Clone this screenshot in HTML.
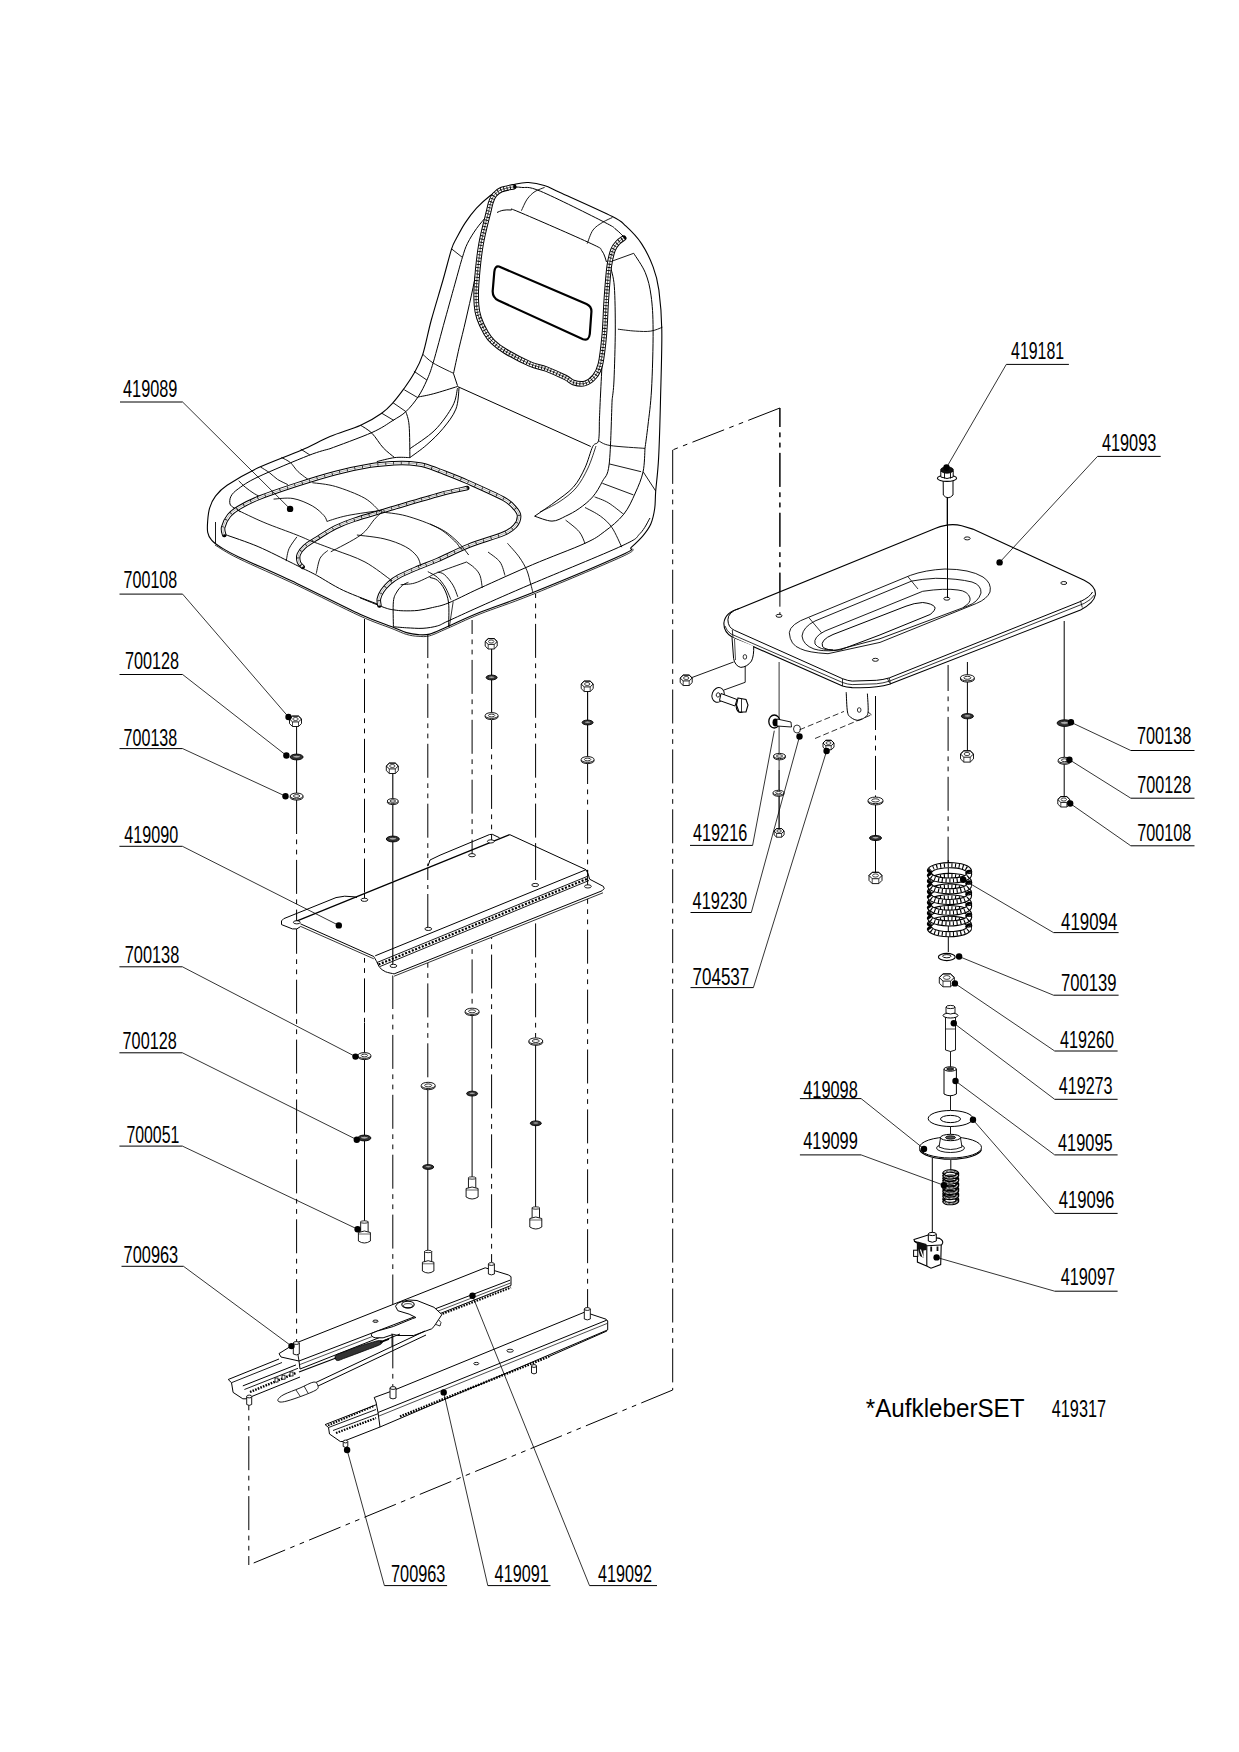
<!DOCTYPE html>
<html><head><meta charset="utf-8"><style>
html,body{margin:0;padding:0;background:#fff;overflow:hidden;}
svg{display:block;}
.t{font-family:"Liberation Sans",sans-serif;font-size:24.4px;fill:#000;}
.s{font-family:"Liberation Sans",sans-serif;font-size:25px;fill:#000;}
</style></head><body>
<svg width="1239" height="1752" viewBox="0 0 1239 1752" stroke-linecap="butt" fill="none">
<rect width="1239" height="1752" fill="#fff"/>
<line x1="296.6" y1="722" x2="296.6" y2="798" stroke="#000" stroke-width="1" />
<line x1="296.6" y1="800" x2="296.6" y2="1345" stroke="#000" stroke-width="1" stroke-dasharray="34 5.5 4.7 5.5 4.7 5.5" stroke-dashoffset="0"/>
<line x1="364.5" y1="619" x2="364.5" y2="1023" stroke="#000" stroke-width="1" stroke-dasharray="34 5.5 4.7 5.5 4.7 5.5" stroke-dashoffset="0"/>
<line x1="364.5" y1="1023" x2="364.5" y2="1222" stroke="#000" stroke-width="1" />
<line x1="392.8" y1="768" x2="392.8" y2="965" stroke="#000" stroke-width="1.1" />
<line x1="392.8" y1="975" x2="392.8" y2="1386" stroke="#000" stroke-width="1" stroke-dasharray="34 5.5 4.7 5.5 4.7 5.5" stroke-dashoffset="0"/>
<line x1="427.8" y1="634" x2="427.8" y2="1083" stroke="#000" stroke-width="1" stroke-dasharray="34 5.5 4.7 5.5 4.7 5.5" stroke-dashoffset="10"/>
<line x1="427.8" y1="1085" x2="427.8" y2="1250" stroke="#000" stroke-width="1" />
<line x1="472.1" y1="620" x2="472.1" y2="1010" stroke="#000" stroke-width="1" stroke-dasharray="34 5.5 4.7 5.5 4.7 5.5" stroke-dashoffset="20"/>
<line x1="472.1" y1="1011" x2="472.1" y2="1180" stroke="#000" stroke-width="1" />
<line x1="491.6" y1="648" x2="491.6" y2="716" stroke="#000" stroke-width="1.1" />
<line x1="491.6" y1="720" x2="491.6" y2="1262" stroke="#000" stroke-width="1" stroke-dasharray="34 5.5 4.7 5.5 4.7 5.5" stroke-dashoffset="5"/>
<line x1="535.6" y1="594" x2="535.6" y2="1040" stroke="#000" stroke-width="1" stroke-dasharray="34 5.5 4.7 5.5 4.7 5.5" stroke-dashoffset="30"/>
<line x1="535.6" y1="1041" x2="535.6" y2="1209" stroke="#000" stroke-width="1" />
<line x1="587.6" y1="690" x2="587.6" y2="759" stroke="#000" stroke-width="1.1" />
<line x1="587.6" y1="762" x2="587.6" y2="1308" stroke="#000" stroke-width="1" stroke-dasharray="34 5.5 4.7 5.5 4.7 5.5" stroke-dashoffset="12"/>
<line x1="779.9" y1="408" x2="672.7" y2="449.9" stroke="#000" stroke-width="1" stroke-dasharray="34 5.5 4.7 5.5 4.7 5.5" stroke-dashoffset="0"/>
<line x1="779.9" y1="408" x2="779.9" y2="614" stroke="#000" stroke-width="1" stroke-dasharray="34 5.5 4.7 5.5 4.7 5.5" stroke-dashoffset="15"/>
<line x1="672.7" y1="449.9" x2="672.7" y2="1390" stroke="#000" stroke-width="1" stroke-dasharray="34 5.5 4.7 5.5 4.7 5.5" stroke-dashoffset="0"/>
<line x1="672.7" y1="1390" x2="248.8" y2="1565" stroke="#000" stroke-width="1" stroke-dasharray="34 5.5 4.7 5.5 4.7 5.5" stroke-dashoffset="0"/>
<line x1="248.8" y1="1565" x2="248.8" y2="1398" stroke="#000" stroke-width="1" stroke-dasharray="34 5.5 4.7 5.5 4.7 5.5" stroke-dashoffset="25"/>
<line x1="779.1" y1="662" x2="779.1" y2="832" stroke="#000" stroke-width="0.8" />
<line x1="875.5" y1="696" x2="875.5" y2="797" stroke="#000" stroke-width="1" stroke-dasharray="34 5.5 4.7 5.5 4.7 5.5" stroke-dashoffset="0"/>
<line x1="875.5" y1="800" x2="875.5" y2="876" stroke="#000" stroke-width="1" />
<line x1="948.1" y1="665" x2="948.1" y2="862" stroke="#000" stroke-width="1" stroke-dasharray="34 5.5 4.7 5.5 4.7 5.5" stroke-dashoffset="8"/>
<line x1="947.2" y1="497" x2="947.2" y2="598" stroke="#000" stroke-width="1" />
<line x1="967.4" y1="662" x2="967.4" y2="753" stroke="#000" stroke-width="1" />
<line x1="1064.2" y1="621" x2="1064.2" y2="798" stroke="#000" stroke-width="1" />
<line x1="950.5" y1="1050" x2="950.5" y2="1110" stroke="#000" stroke-width="0.9" />
<line x1="950.5" y1="1125" x2="950.5" y2="1140" stroke="#000" stroke-width="0.9" />
<path d="M289.5,719 L292.5,716.1 L298.5,716.1 L301.5,719 L301.5,723.6 L298.5,726.5 L292.5,726.5 L289.5,723.6 Z" fill="#fff" stroke="#000" stroke-width="0.9" />
<path d="M289.5,719 L292.5,716.1 L298.5,716.1 L301.5,719" fill="none" stroke="#000" stroke-width="0.9" />
<path d="M301.5,719 L298.5,721.9 L292.5,721.9 L289.5,719" fill="none" stroke="#000" stroke-width="0.9" />
<line x1="298.5" y1="721.9" x2="298.5" y2="726.5" stroke="#000" stroke-width="0.7200000000000001" />
<line x1="292.5" y1="721.9" x2="292.5" y2="726.5" stroke="#000" stroke-width="0.7200000000000001" />
<ellipse cx="295.5" cy="719" rx="2.7" ry="1.5" fill="none" stroke="#000" stroke-width="0.7200000000000001"/>
<ellipse cx="296.6" cy="757" rx="6.5" ry="2.9" fill="#333" stroke="#000" stroke-width="0.9"/>
<ellipse cx="296.6" cy="756.7" rx="3.6" ry="1.4" fill="#aaa" stroke="#222" stroke-width="0.8"/>
<ellipse cx="296.6" cy="797.2" rx="6.5" ry="2.9" fill="#fff" stroke="#000" stroke-width="0.9"/>
<ellipse cx="296.6" cy="796" rx="6.5" ry="2.9" fill="#fff" stroke="#000" stroke-width="0.9"/>
<ellipse cx="296.6" cy="796" rx="3.2" ry="1.4" fill="none" stroke="#000" stroke-width="0.8"/>
<path d="M386.3,766 L389.3,763.1 L395.3,763.1 L398.3,766 L398.3,770.6 L395.3,773.5 L389.3,773.5 L386.3,770.6 Z" fill="#fff" stroke="#000" stroke-width="0.9" />
<path d="M386.3,766 L389.3,763.1 L395.3,763.1 L398.3,766" fill="none" stroke="#000" stroke-width="0.9" />
<path d="M398.3,766 L395.3,768.9 L389.3,768.9 L386.3,766" fill="none" stroke="#000" stroke-width="0.9" />
<line x1="395.3" y1="768.9" x2="395.3" y2="773.5" stroke="#000" stroke-width="0.7200000000000001" />
<line x1="389.3" y1="768.9" x2="389.3" y2="773.5" stroke="#000" stroke-width="0.7200000000000001" />
<ellipse cx="392.3" cy="766" rx="2.7" ry="1.5" fill="none" stroke="#000" stroke-width="0.7200000000000001"/>
<ellipse cx="392.8" cy="802.2" rx="5.5" ry="2.4" fill="#fff" stroke="#000" stroke-width="0.9"/>
<ellipse cx="392.8" cy="801" rx="5.5" ry="2.4" fill="#fff" stroke="#000" stroke-width="0.9"/>
<ellipse cx="392.8" cy="801" rx="2.8" ry="1.2" fill="none" stroke="#000" stroke-width="0.8"/>
<ellipse cx="392.8" cy="839" rx="6.5" ry="2.9" fill="#333" stroke="#000" stroke-width="0.9"/>
<ellipse cx="392.8" cy="838.7" rx="3.6" ry="1.4" fill="#aaa" stroke="#222" stroke-width="0.8"/>
<path d="M485.2,641.5 L488.2,638.6 L494.2,638.6 L497.2,641.5 L497.2,646.1 L494.2,649 L488.2,649 L485.2,646.1 Z" fill="#fff" stroke="#000" stroke-width="0.9" />
<path d="M485.2,641.5 L488.2,638.6 L494.2,638.6 L497.2,641.5" fill="none" stroke="#000" stroke-width="0.9" />
<path d="M497.2,641.5 L494.2,644.4 L488.2,644.4 L485.2,641.5" fill="none" stroke="#000" stroke-width="0.9" />
<line x1="494.2" y1="644.4" x2="494.2" y2="649" stroke="#000" stroke-width="0.7200000000000001" />
<line x1="488.2" y1="644.4" x2="488.2" y2="649" stroke="#000" stroke-width="0.7200000000000001" />
<ellipse cx="491.2" cy="641.5" rx="2.7" ry="1.5" fill="none" stroke="#000" stroke-width="0.7200000000000001"/>
<ellipse cx="491.6" cy="677.5" rx="5.5" ry="2.4" fill="#333" stroke="#000" stroke-width="0.9"/>
<ellipse cx="491.6" cy="677.2" rx="3" ry="1.2" fill="#aaa" stroke="#222" stroke-width="0.8"/>
<ellipse cx="491.6" cy="716.7" rx="6.5" ry="2.9" fill="#fff" stroke="#000" stroke-width="0.9"/>
<ellipse cx="491.6" cy="715.5" rx="6.5" ry="2.9" fill="#fff" stroke="#000" stroke-width="0.9"/>
<ellipse cx="491.6" cy="715.5" rx="3.2" ry="1.4" fill="none" stroke="#000" stroke-width="0.8"/>
<path d="M581.2,684 L584.2,681.1 L590.2,681.1 L593.2,684 L593.2,688.6 L590.2,691.5 L584.2,691.5 L581.2,688.6 Z" fill="#fff" stroke="#000" stroke-width="0.9" />
<path d="M581.2,684 L584.2,681.1 L590.2,681.1 L593.2,684" fill="none" stroke="#000" stroke-width="0.9" />
<path d="M593.2,684 L590.2,686.9 L584.2,686.9 L581.2,684" fill="none" stroke="#000" stroke-width="0.9" />
<line x1="590.2" y1="686.9" x2="590.2" y2="691.5" stroke="#000" stroke-width="0.7200000000000001" />
<line x1="584.2" y1="686.9" x2="584.2" y2="691.5" stroke="#000" stroke-width="0.7200000000000001" />
<ellipse cx="587.2" cy="684" rx="2.7" ry="1.5" fill="none" stroke="#000" stroke-width="0.7200000000000001"/>
<ellipse cx="587.6" cy="722.5" rx="5.5" ry="2.4" fill="#333" stroke="#000" stroke-width="0.9"/>
<ellipse cx="587.6" cy="722.2" rx="3" ry="1.2" fill="#aaa" stroke="#222" stroke-width="0.8"/>
<ellipse cx="587.6" cy="760.7" rx="6.5" ry="2.9" fill="#fff" stroke="#000" stroke-width="0.9"/>
<ellipse cx="587.6" cy="759.5" rx="6.5" ry="2.9" fill="#fff" stroke="#000" stroke-width="0.9"/>
<ellipse cx="587.6" cy="759.5" rx="3.2" ry="1.4" fill="none" stroke="#000" stroke-width="0.8"/>
<ellipse cx="364.4" cy="1056.7" rx="6.5" ry="2.9" fill="#fff" stroke="#000" stroke-width="0.9"/>
<ellipse cx="364.4" cy="1055.5" rx="6.5" ry="2.9" fill="#fff" stroke="#000" stroke-width="0.9"/>
<ellipse cx="364.4" cy="1055.5" rx="3.2" ry="1.4" fill="none" stroke="#000" stroke-width="0.8"/>
<ellipse cx="364.4" cy="1138" rx="6.5" ry="2.9" fill="#333" stroke="#000" stroke-width="0.9"/>
<ellipse cx="364.4" cy="1137.7" rx="3.6" ry="1.4" fill="#aaa" stroke="#222" stroke-width="0.8"/>
<rect x="360.7" y="1222" width="7.4" height="10.5" fill="#fff" stroke="#000" stroke-width="0.9"/>
<ellipse cx="364.4" cy="1222" rx="3.7" ry="1.2" fill="#fff" stroke="#000" stroke-width="0.8"/>
<path d="M358.4,1232.5 L358.4,1241 Q364.4,1245 370.4,1241 L370.4,1232.5 Q364.4,1229.5 358.4,1232.5 Z" fill="#fff" stroke="#000" stroke-width="0.9"/>
<line x1="358.4" y1="1234" x2="370.4" y2="1234" stroke="#000" stroke-width="0.6" />
<ellipse cx="428.2" cy="1086.6" rx="7" ry="3.1" fill="#fff" stroke="#000" stroke-width="0.9"/>
<ellipse cx="428.2" cy="1085.4" rx="7" ry="3.1" fill="#fff" stroke="#000" stroke-width="0.9"/>
<ellipse cx="428.2" cy="1085.4" rx="3.5" ry="1.5" fill="none" stroke="#000" stroke-width="0.8"/>
<ellipse cx="428.2" cy="1167" rx="5.5" ry="2.4" fill="#333" stroke="#000" stroke-width="0.9"/>
<ellipse cx="428.2" cy="1166.7" rx="3" ry="1.2" fill="#aaa" stroke="#222" stroke-width="0.8"/>
<rect x="424.6" y="1251.5" width="7.1" height="10.8" fill="#fff" stroke="#000" stroke-width="0.9"/>
<ellipse cx="428.2" cy="1251.5" rx="3.6" ry="1.2" fill="#fff" stroke="#000" stroke-width="0.8"/>
<path d="M422.4,1262.2 L422.4,1271 Q428.2,1275 433.9,1271 L433.9,1262.2 Q428.2,1259.2 422.4,1262.2 Z" fill="#fff" stroke="#000" stroke-width="0.9"/>
<line x1="422.4" y1="1263.8" x2="433.9" y2="1263.8" stroke="#000" stroke-width="0.6" />
<ellipse cx="472.1" cy="1012.5" rx="7" ry="3.1" fill="#fff" stroke="#000" stroke-width="0.9"/>
<ellipse cx="472.1" cy="1011.3" rx="7" ry="3.1" fill="#fff" stroke="#000" stroke-width="0.9"/>
<ellipse cx="472.1" cy="1011.3" rx="3.5" ry="1.5" fill="none" stroke="#000" stroke-width="0.8"/>
<ellipse cx="472.1" cy="1093.6" rx="5.5" ry="2.4" fill="#333" stroke="#000" stroke-width="0.9"/>
<ellipse cx="472.1" cy="1093.3" rx="3" ry="1.2" fill="#aaa" stroke="#222" stroke-width="0.8"/>
<rect x="468.4" y="1178" width="7.4" height="10.5" fill="#fff" stroke="#000" stroke-width="0.9"/>
<ellipse cx="472.1" cy="1178" rx="3.7" ry="1.2" fill="#fff" stroke="#000" stroke-width="0.8"/>
<path d="M466.1,1188.5 L466.1,1197 Q472.1,1201 478.1,1197 L478.1,1188.5 Q472.1,1185.5 466.1,1188.5 Z" fill="#fff" stroke="#000" stroke-width="0.9"/>
<line x1="466.1" y1="1190" x2="478.1" y2="1190" stroke="#000" stroke-width="0.6" />
<ellipse cx="535.8" cy="1042.2" rx="7" ry="3.1" fill="#fff" stroke="#000" stroke-width="0.9"/>
<ellipse cx="535.8" cy="1041" rx="7" ry="3.1" fill="#fff" stroke="#000" stroke-width="0.9"/>
<ellipse cx="535.8" cy="1041" rx="3.5" ry="1.5" fill="none" stroke="#000" stroke-width="0.8"/>
<ellipse cx="535.8" cy="1123.3" rx="5.5" ry="2.4" fill="#333" stroke="#000" stroke-width="0.9"/>
<ellipse cx="535.8" cy="1123" rx="3" ry="1.2" fill="#aaa" stroke="#222" stroke-width="0.8"/>
<rect x="532.1" y="1208" width="7.4" height="10.5" fill="#fff" stroke="#000" stroke-width="0.9"/>
<ellipse cx="535.8" cy="1208" rx="3.7" ry="1.2" fill="#fff" stroke="#000" stroke-width="0.8"/>
<path d="M529.8,1218.5 L529.8,1227 Q535.8,1231 541.8,1227 L541.8,1218.5 Q535.8,1215.5 529.8,1218.5 Z" fill="#fff" stroke="#000" stroke-width="0.9"/>
<line x1="529.8" y1="1220" x2="541.8" y2="1220" stroke="#000" stroke-width="0.6" />
<ellipse cx="967.4" cy="679" rx="7" ry="3.1" fill="#fff" stroke="#000" stroke-width="0.9"/>
<ellipse cx="967.4" cy="677.8" rx="7" ry="3.1" fill="#fff" stroke="#000" stroke-width="0.9"/>
<ellipse cx="967.4" cy="677.8" rx="3.5" ry="1.5" fill="none" stroke="#000" stroke-width="0.8"/>
<ellipse cx="967.4" cy="716.2" rx="6" ry="2.6" fill="#333" stroke="#000" stroke-width="0.9"/>
<ellipse cx="967.4" cy="715.9" rx="3.3" ry="1.3" fill="#aaa" stroke="#222" stroke-width="0.8"/>
<path d="M960.5,754 L963.8,750.8 L970.2,750.8 L973.5,754 L973.5,758.9 L970.2,762.1 L963.8,762.1 L960.5,758.9 Z" fill="#fff" stroke="#000" stroke-width="0.9" />
<path d="M960.5,754 L963.8,750.8 L970.2,750.8 L973.5,754" fill="none" stroke="#000" stroke-width="0.9" />
<path d="M973.5,754 L970.2,757.2 L963.8,757.2 L960.5,754" fill="none" stroke="#000" stroke-width="0.9" />
<line x1="970.2" y1="757.2" x2="970.2" y2="762.1" stroke="#000" stroke-width="0.7200000000000001" />
<line x1="963.8" y1="757.2" x2="963.8" y2="762.1" stroke="#000" stroke-width="0.7200000000000001" />
<ellipse cx="967" cy="754" rx="2.9" ry="1.6" fill="none" stroke="#000" stroke-width="0.7200000000000001"/>
<ellipse cx="875.5" cy="801.6" rx="7.5" ry="3.3" fill="#fff" stroke="#000" stroke-width="0.9"/>
<ellipse cx="875.5" cy="800.4" rx="7.5" ry="3.3" fill="#fff" stroke="#000" stroke-width="0.9"/>
<ellipse cx="875.5" cy="800.4" rx="3.8" ry="1.6" fill="none" stroke="#000" stroke-width="0.8"/>
<ellipse cx="875.5" cy="838" rx="6" ry="2.6" fill="#333" stroke="#000" stroke-width="0.9"/>
<ellipse cx="875.5" cy="837.7" rx="3.3" ry="1.3" fill="#aaa" stroke="#222" stroke-width="0.8"/>
<path d="M869,875.5 L872.2,872.3 L878.8,872.3 L882,875.5 L882,880.4 L878.8,883.6 L872.2,883.6 L869,880.4 Z" fill="#fff" stroke="#000" stroke-width="0.9" />
<path d="M869,875.5 L872.2,872.3 L878.8,872.3 L882,875.5" fill="none" stroke="#000" stroke-width="0.9" />
<path d="M882,875.5 L878.8,878.7 L872.2,878.7 L869,875.5" fill="none" stroke="#000" stroke-width="0.9" />
<line x1="878.8" y1="878.7" x2="878.8" y2="883.6" stroke="#000" stroke-width="0.7200000000000001" />
<line x1="872.2" y1="878.7" x2="872.2" y2="883.6" stroke="#000" stroke-width="0.7200000000000001" />
<ellipse cx="875.5" cy="875.5" rx="2.9" ry="1.6" fill="none" stroke="#000" stroke-width="0.7200000000000001"/>
<ellipse cx="1064.6" cy="723.1" rx="7.5" ry="3.3" fill="#333" stroke="#000" stroke-width="0.9"/>
<ellipse cx="1064.6" cy="722.8" rx="4.1" ry="1.6" fill="#aaa" stroke="#222" stroke-width="0.8"/>
<ellipse cx="1064.6" cy="761.4" rx="6.5" ry="2.9" fill="#fff" stroke="#000" stroke-width="0.9"/>
<ellipse cx="1064.6" cy="760.2" rx="6.5" ry="2.9" fill="#fff" stroke="#000" stroke-width="0.9"/>
<ellipse cx="1064.6" cy="760.2" rx="3.2" ry="1.4" fill="none" stroke="#000" stroke-width="0.8"/>
<path d="M1057.8,799.5 L1060.8,796.6 L1066.8,796.6 L1069.8,799.5 L1069.8,804.1 L1066.8,807 L1060.8,807 L1057.8,804.1 Z" fill="#fff" stroke="#000" stroke-width="0.9" />
<path d="M1057.8,799.5 L1060.8,796.6 L1066.8,796.6 L1069.8,799.5" fill="none" stroke="#000" stroke-width="0.9" />
<path d="M1069.8,799.5 L1066.8,802.4 L1060.8,802.4 L1057.8,799.5" fill="none" stroke="#000" stroke-width="0.9" />
<line x1="1066.8" y1="802.4" x2="1066.8" y2="807" stroke="#000" stroke-width="0.7200000000000001" />
<line x1="1060.8" y1="802.4" x2="1060.8" y2="807" stroke="#000" stroke-width="0.7200000000000001" />
<ellipse cx="1063.8" cy="799.5" rx="2.7" ry="1.5" fill="none" stroke="#000" stroke-width="0.7200000000000001"/>
<path d="M680.2,678 L683.2,675.1 L689.2,675.1 L692.2,678 L692.2,682.6 L689.2,685.5 L683.2,685.5 L680.2,682.6 Z" fill="#fff" stroke="#000" stroke-width="0.9" />
<path d="M680.2,678 L683.2,675.1 L689.2,675.1 L692.2,678" fill="none" stroke="#000" stroke-width="0.9" />
<path d="M692.2,678 L689.2,680.9 L683.2,680.9 L680.2,678" fill="none" stroke="#000" stroke-width="0.9" />
<line x1="689.2" y1="680.9" x2="689.2" y2="685.5" stroke="#000" stroke-width="0.7200000000000001" />
<line x1="683.2" y1="680.9" x2="683.2" y2="685.5" stroke="#000" stroke-width="0.7200000000000001" />
<ellipse cx="686.2" cy="678" rx="2.7" ry="1.5" fill="none" stroke="#000" stroke-width="0.7200000000000001"/>
<ellipse cx="718.1" cy="694.9" rx="6" ry="7.5" fill="#fff" stroke="#000" stroke-width="1" transform="rotate(20 718.1 694.9)"/>
<ellipse cx="718.1" cy="694.9" rx="1.8" ry="2.2" fill="#fff" stroke="#000" stroke-width="0.8" transform="rotate(20 718.1 694.9)"/>
<line x1="692" y1="677.5" x2="733.6" y2="662" stroke="#000" stroke-width="0.9" />
<path d="M745.2,660 L745.2,682.3 L724,690" fill="none" stroke="#000" stroke-width="0.9" />
<path d="M721,693.5 L737,699.5 L735,706 L719.5,700.5 Z" fill="#fff" stroke="#000" stroke-width="1"/>
<ellipse cx="741.5" cy="706" rx="5.2" ry="6.5" fill="#fff" stroke="#000" stroke-width="1.1" transform="rotate(15 741.5 706)"/>
<path d="M738,698 L746,699.5 L748,705 L746,712 L739,712 L736.5,705 Z" fill="#fff" stroke="#000" stroke-width="1.1"/>
<line x1="741.5" y1="699" x2="741.5" y2="712" stroke="#000" stroke-width="0.8" />
<ellipse cx="774.3" cy="721.5" rx="5.5" ry="6.5" fill="#fff" stroke="#000" stroke-width="1.3"/>
<ellipse cx="775.5" cy="722.5" rx="3" ry="4" fill="#000" stroke="#000" stroke-width="0"/>
<path d="M777,719 L791,722 L791.5,727 L777,726 Z" fill="#fff" stroke="#000" stroke-width="0.9" />
<ellipse cx="797" cy="729" rx="3.5" ry="4" fill="none" stroke="#000" stroke-width="0.8"/>
<path d="M823,743 L825.8,740.3 L831.2,740.3 L834,743 L834,747.2 L831.2,749.8 L825.8,749.8 L823,747.2 Z" fill="#fff" stroke="#000" stroke-width="0.9" />
<path d="M823,743 L825.8,740.3 L831.2,740.3 L834,743" fill="none" stroke="#000" stroke-width="0.9" />
<path d="M834,743 L831.2,745.7 L825.8,745.7 L823,743" fill="none" stroke="#000" stroke-width="0.9" />
<line x1="831.2" y1="745.7" x2="831.2" y2="749.8" stroke="#000" stroke-width="0.7200000000000001" />
<line x1="825.8" y1="745.7" x2="825.8" y2="749.8" stroke="#000" stroke-width="0.7200000000000001" />
<ellipse cx="828.5" cy="743" rx="2.5" ry="1.4" fill="none" stroke="#000" stroke-width="0.7200000000000001"/>
<line x1="779.1" y1="770" x2="779.1" y2="832" stroke="#000" stroke-width="0.8" />
<ellipse cx="779.5" cy="757.2" rx="6" ry="2.6" fill="#fff" stroke="#000" stroke-width="0.9"/>
<ellipse cx="779.5" cy="756" rx="6" ry="2.6" fill="#fff" stroke="#000" stroke-width="0.9"/>
<ellipse cx="779.5" cy="756" rx="3" ry="1.3" fill="none" stroke="#000" stroke-width="0.8"/>
<ellipse cx="778.5" cy="793.9" rx="5.5" ry="2.4" fill="#fff" stroke="#000" stroke-width="0.9"/>
<ellipse cx="778.5" cy="792.7" rx="5.5" ry="2.4" fill="#fff" stroke="#000" stroke-width="0.9"/>
<ellipse cx="778.5" cy="792.7" rx="2.8" ry="1.2" fill="none" stroke="#000" stroke-width="0.8"/>
<path d="M774.1,831 L776.6,828.6 L781.6,828.6 L784.1,831 L784.1,834.8 L781.6,837.2 L776.6,837.2 L774.1,834.8 Z" fill="#fff" stroke="#000" stroke-width="0.9" />
<path d="M774.1,831 L776.6,828.6 L781.6,828.6 L784.1,831" fill="none" stroke="#000" stroke-width="0.9" />
<path d="M784.1,831 L781.6,833.4 L776.6,833.4 L774.1,831" fill="none" stroke="#000" stroke-width="0.9" />
<line x1="781.6" y1="833.4" x2="781.6" y2="837.2" stroke="#000" stroke-width="0.7200000000000001" />
<line x1="776.6" y1="833.4" x2="776.6" y2="837.2" stroke="#000" stroke-width="0.7200000000000001" />
<ellipse cx="779.1" cy="831" rx="2.2" ry="1.3" fill="none" stroke="#000" stroke-width="0.7200000000000001"/>
<path d="M281.5,920.9 L283.7,918.7 L336,897.6 L344.7,896.2 L354.9,896.9 L357,897 L428,866 L430,860 L440,855.2 L489.4,834.6 L492.3,834.3 L499.6,837.8 L509.7,834.6 L586,869.7 L588.2,874.1 L589.6,879.2 L603.4,886.4 L604.2,888.6 L603,892.8 L394.1,976.2 L385.4,971.7 L379.6,967.4 L376.7,961.6 L373.8,958.8 L300.4,926.3 L296.8,928.9 L292.4,928.9 L281.5,924.6 Z" fill="#fff" stroke="none" stroke-width="0" />
<path d="M281.5,920.9 L283.7,918.7 L336,897.6 L344.7,896.2 L354.9,896.9 L357,897.6" fill="none" stroke="#000" stroke-width="1" />
<line x1="295.3" y1="921.6" x2="509.7" y2="834.6" stroke="#000" stroke-width="1.3" />
<path d="M428,866 L430,860 L440,855.2 L489.4,834.6 L492.3,834.3 L499.6,837.8" fill="none" stroke="#000" stroke-width="1" />
<path d="M281.5,920.9 L281.5,924.6 L292.4,928.9 L296.8,928.9 L300.4,926.7" fill="none" stroke="#000" stroke-width="1" />
<line x1="300.4" y1="923.8" x2="373.8" y2="956.5" stroke="#000" stroke-width="1" />
<line x1="300.4" y1="926.3" x2="373.8" y2="958.8" stroke="#000" stroke-width="0.8" />
<path d="M373.8,956.5 C374.3,957.4 375.7,959.8 376.7,961.6 C377.7,963.4 378.2,965.7 379.6,967.4 C381.1,969.1 383,970.6 385.4,971.7 C387.8,972.8 392.7,973.5 394.1,973.9" fill="none" stroke="#000" stroke-width="1" />
<line x1="394.1" y1="973.9" x2="602" y2="890.8" stroke="#000" stroke-width="1" />
<line x1="394.1" y1="976.2" x2="603" y2="892.8" stroke="#000" stroke-width="0.8" />
<path d="M586,869.7 L588.2,874.1 L589.6,879.2 L603.4,886.4 L604.2,888.6 L602,890.8" fill="none" stroke="#000" stroke-width="1" />
<line x1="509.7" y1="834.6" x2="586" y2="869.7" stroke="#000" stroke-width="1" />
<line x1="375.2" y1="955.8" x2="586" y2="869.7" stroke="#000" stroke-width="1" />
<line x1="377" y1="962.5" x2="587" y2="876.5" stroke="#000" stroke-width="0.9" />
<line x1="380" y1="966.5" x2="589" y2="880.5" stroke="#000" stroke-width="0.9" />
<line x1="378.5" y1="964.5" x2="588" y2="878.5" stroke="#000" stroke-width="2.2" stroke-dasharray="2 1.6"/>
<line x1="296.6" y1="913.5" x2="296.6" y2="922.3" stroke="#000" stroke-width="1" />
<line x1="364.5" y1="893.5" x2="364.5" y2="899.8" stroke="#000" stroke-width="1" />
<line x1="392.8" y1="882" x2="392.8" y2="965.9" stroke="#000" stroke-width="1.1" />
<line x1="427.8" y1="867.8" x2="427.8" y2="880" stroke="#000" stroke-width="1" />
<line x1="427.8" y1="885" x2="427.8" y2="889" stroke="#000" stroke-width="1" />
<line x1="427.8" y1="894" x2="427.8" y2="928.9" stroke="#000" stroke-width="1" />
<line x1="472.1" y1="841.9" x2="472.1" y2="855.2" stroke="#000" stroke-width="1" />
<line x1="491.6" y1="834.4" x2="491.6" y2="841.4" stroke="#000" stroke-width="1" />
<line x1="535.6" y1="846.5" x2="535.6" y2="880" stroke="#000" stroke-width="1" />
<line x1="587.6" y1="870" x2="587.6" y2="886.4" stroke="#000" stroke-width="1" />
<ellipse cx="296.8" cy="922.3" rx="3.4" ry="1.6" fill="#fff" stroke="#000" stroke-width="0.9"/>
<ellipse cx="364.4" cy="899.8" rx="3.4" ry="1.6" fill="#fff" stroke="#000" stroke-width="0.9"/>
<ellipse cx="428.3" cy="928.9" rx="3.4" ry="1.6" fill="#fff" stroke="#000" stroke-width="0.9"/>
<ellipse cx="393.4" cy="965.9" rx="3.4" ry="1.6" fill="#fff" stroke="#000" stroke-width="0.9"/>
<ellipse cx="472" cy="855.2" rx="3.4" ry="1.6" fill="#fff" stroke="#000" stroke-width="0.9"/>
<ellipse cx="490.8" cy="841.4" rx="3.4" ry="1.6" fill="#fff" stroke="#000" stroke-width="0.9"/>
<ellipse cx="535.2" cy="885" rx="3.4" ry="1.6" fill="#fff" stroke="#000" stroke-width="0.9"/>
<ellipse cx="587.9" cy="886.4" rx="3.4" ry="1.6" fill="#fff" stroke="#000" stroke-width="0.9"/>
<path d="M739.2,608.5 L935.7,528.2 Q950,522.5 961.7,525.8 L972.8,529.1 L1084.2,580.2 Q1096.5,586.5 1095.3,595 Q1094,603 1080.5,609.9 L889.3,684.3 Q876.4,688.5 852.2,687.6 Q846,687 842.5,686 L732.8,637.5 Q723.5,632.5 723.9,623 Q725,612.5 739.2,608.5 Z" fill="#fff" stroke="#000" stroke-width="1.1"/>
<path d="M739.2,608.5 Q728,612 727.9,619.8 Q728,627.5 734.4,630.3 L842.5,678.7 Q848,680.8 852.2,681.1 L876.4,680.3 Q883,679.8 889.3,677.9 L1080.5,601.5 Q1090,597 1092.5,592" fill="none" stroke="#000" stroke-width="1"/>
<path d="M725,626 Q726.5,631 731,634 L842.5,682.5 Q848,684.5 852.2,684.6 L876.4,683.8 Q883,683.2 889.3,681.2 L1084.2,603.4 Q1091,600 1094.3,595" fill="none" stroke="#000" stroke-width="0.8"/>
<line x1="732.3" y1="630" x2="733" y2="637.5" stroke="#000" stroke-width="0.8" />
<line x1="842.5" y1="678.7" x2="842.5" y2="686" stroke="#000" stroke-width="0.8" />
<line x1="889.3" y1="677.9" x2="890.5" y2="684.3" stroke="#000" stroke-width="0.8" />
<line x1="1080.5" y1="600.6" x2="1082.3" y2="607.5" stroke="#000" stroke-width="0.8" />
<line x1="887.4" y1="678.5" x2="889.5" y2="682.8" stroke="#000" stroke-width="0.8" />
<path d="M910.3,575.4 L808.6,617.3 Q790,624 789.3,632.7 Q790,645 800.6,648.8 Q808,652.5 828,653.7 L880,642.4 L976.5,603.4 Q987,599 990,592 Q992,583 983,577 Q970,569 945,569 Q925,570 910.3,575.4 Z" fill="none" stroke="#000" stroke-width="0.9"/>
<path d="M911.6,581.1 L815,621 Q803,627 802,636 Q803,645 814,649 Q822,651.5 835,650.5 L880,638.7 L967.2,606.2 Q978.5,602 981,593 Q981.5,585 972,582 Q958,578.5 935.7,578.3 Q922,579 911.6,581.1 Z" fill="none" stroke="#000" stroke-width="0.9"/>
<path d="M922.7,591.3 L825,631 Q813,637 815,644 Q819,650 833,650 M963.5,607.1 Q971,603 970,598 Q968,591 958,590 Q945,588 922.7,591.3" fill="none" stroke="#000" stroke-width="0.9"/>
<path d="M906,606.2 L833,634.5 Q820,640 822.5,646.5 Q826,651 840,650 L880,634.9 L930.1,614.5 Q936,610 934.8,607 Q932,603.5 922.7,602.5 Q914,603 906,606.2 Z" fill="none" stroke="#000" stroke-width="1"/>
<line x1="808.6" y1="617.3" x2="821.5" y2="632.7" stroke="#000" stroke-width="0.8" />
<line x1="907.8" y1="576.5" x2="918" y2="589" stroke="#000" stroke-width="0.8" />
<ellipse cx="779" cy="615.8" rx="3" ry="1.5" fill="#fff" stroke="#000" stroke-width="0.9"/>
<ellipse cx="967.2" cy="538.4" rx="3" ry="1.5" fill="#fff" stroke="#000" stroke-width="0.9"/>
<ellipse cx="1063.8" cy="583" rx="3" ry="1.5" fill="#fff" stroke="#000" stroke-width="0.9"/>
<ellipse cx="875.4" cy="659.8" rx="3" ry="1.5" fill="#fff" stroke="#000" stroke-width="0.9"/>
<ellipse cx="946.8" cy="598.7" rx="3" ry="1.5" fill="#fff" stroke="#000" stroke-width="0.9"/>
<path d="M732,637.5 L733.6,658.5 Q735,666 740.8,667.4 Q747.3,667 751.5,661 Q754,656 753.7,646" fill="#fff" stroke="#000" stroke-width="1"/>
<line x1="734.5" y1="639" x2="735.5" y2="660" stroke="#000" stroke-width="0.7" />
<ellipse cx="744.9" cy="656.9" rx="1.8" ry="2.3" fill="#fff" stroke="#000" stroke-width="0.8"/>
<path d="M846.2,692.2 C846.4,695.5 846.7,707.8 847.5,712 C848.3,716.2 849.3,716.1 851,717.5 C852.7,718.9 855.5,720.3 857.8,720.3 C860.1,720.3 863,718.9 864.7,717.5 C866.4,716.1 867.7,716 868.1,712 C868.5,708 867.5,696.7 867.4,693.6" fill="none" stroke="#000" stroke-width="1" />
<ellipse cx="859.2" cy="710" rx="1.8" ry="2.3" fill="#fff" stroke="#000" stroke-width="0.8"/>
<line x1="799.5" y1="729.8" x2="844" y2="711.4" stroke="#000" stroke-width="0.8" stroke-dasharray="6 3"/>
<line x1="815" y1="738.5" x2="871.5" y2="714.8" stroke="#000" stroke-width="0.8" stroke-dasharray="6 3"/>
<line x1="871.5" y1="714.8" x2="868" y2="712" stroke="#000" stroke-width="0.8" />
<line x1="779.9" y1="408" x2="779.9" y2="614" stroke="#000" stroke-width="1" stroke-dasharray="34 5.5 4.7 5.5 4.7 5.5" stroke-dashoffset="15"/>
<line x1="947.5" y1="497" x2="947.5" y2="598" stroke="#000" stroke-width="1" />
<path d="M943.2,481 L943.3,495 Q948,500.5 953,495 L953,481" fill="#fff" stroke="#000" stroke-width="1"/>
<ellipse cx="947" cy="478.2" rx="9.6" ry="3.2" fill="#fff" stroke="#000" stroke-width="1.1"/>
<path d="M940.8,471 L940.8,477 Q947,480 953.2,477 L953.2,471 Z" fill="#fff" stroke="#000" stroke-width="1"/>
<line x1="944.5" y1="472.5" x2="944.5" y2="478.5" stroke="#000" stroke-width="0.9" />
<line x1="950.5" y1="472.5" x2="950.5" y2="478.5" stroke="#000" stroke-width="0.9" />
<ellipse cx="947" cy="470" rx="6.4" ry="3.2" fill="#111" stroke="#000" stroke-width="0.8"/>
<path d="M227.1,485.2 C234.2,480.5 245.8,473.6 258.1,467.8 C270.4,462 288.7,455.6 300.7,450.4 C312.7,445.2 320,440.8 330,436.6 C340,432.4 352.1,429.2 360.7,425.3 C369.3,421.4 376.3,417 381.7,413.2 C387.1,409.4 389.2,406.9 393,402.7 C396.8,398.5 400.8,393 404.3,388.2 C407.8,383.4 410.8,379.2 413.9,373.6 C417,368 419.9,363.2 422.8,354.3 C425.7,345.4 427.9,332.4 431.3,320 C434.7,307.6 439.6,291.9 443,280 C446.4,268.1 449.4,255.8 451.6,248.9 C453.8,242 453.9,243.1 456.2,238.8 C458.5,234.5 461.8,228 465.2,222.9 C468.6,217.8 472.4,212.7 476.5,208.2 C480.6,203.7 486,199 490.1,195.8 C494.2,192.6 497.1,191 501.4,189 C505.7,187 511.5,185.1 516,184 C520.5,182.9 523.8,182.2 528.5,182.5 C533.2,182.8 539,183.9 544.3,185.6 C549.5,187.2 548.6,187.2 560,192.4 C571.4,197.6 601.4,210.9 612.4,216.5 C623.4,222.1 621.1,221.7 626,226.2 C630.9,230.7 637,236.8 641.5,243.6 C646,250.4 650.2,259.1 653.1,266.9 C656,274.6 657.5,279.6 658.9,290.1 C660.3,300.6 661.5,311.7 661.8,330 C662.1,348.3 661,378.6 660.5,400 C660,421.4 659.4,442.9 658.6,458.1 C657.8,473.3 656.4,482.6 655.7,491 C655.1,499.4 655.5,503 654.7,508.5 C653.9,514 652.7,519.5 650.8,524 C648.9,528.5 646.3,531.7 643.1,535.6 C639.9,539.5 635,544 631.5,547.2 C628,550.4 638.4,547.4 621.8,555 C605.2,562.6 555.3,583.5 531.7,593 C508.1,602.5 494.1,606.7 480,612.3 C465.9,617.9 455.6,623.2 447.2,626.8 C438.8,630.4 434.5,632.8 429.7,634.1 C424.9,635.4 422,634.9 418.1,634.6 C414.2,634.4 410.9,633.9 406.5,632.6 C402.1,631.3 399.8,629.9 392,626.8 C384.2,623.7 375.9,621.4 360,614.2 C344.1,607 317.1,593 296.9,583.4 C276.7,573.8 251.4,562.9 238.7,556.9 C226,550.9 225.2,550 220.7,547.2 C216.2,544.4 213.8,542.6 211.6,540.1 C209.4,537.6 208.3,535.5 207.7,532.3 C207,529.1 207.4,524.8 207.7,520.7 C208,516.6 208.4,511.9 209.7,507.8 C211,503.7 212.6,500 215.5,496.2 C218.4,492.4 220,489.9 227.1,485.2 Z" fill="none" stroke="#000" stroke-width="1.1" />
<path d="M215,545 C218.9,547.3 225,551.9 238.7,558.6 C252.3,565.3 276.7,575.6 296.9,585.2 C317.1,594.8 344.1,608.8 360,616 C375.9,623.2 384.2,625.5 392,628.6 C399.8,631.7 402.1,633.1 406.5,634.4 C410.9,635.7 414.2,636.1 418.1,636.3 C422,636.5 424.9,637.1 429.7,635.8 C434.5,634.5 438.8,632.1 447.2,628.5 C455.6,624.9 465.9,619.6 480,614 C494.1,608.4 508.1,604.3 531.7,594.8 C555.3,585.3 604.9,564.5 621.8,556.8 C638.7,549.1 631.1,549.9 633,548.5" fill="none" stroke="#000" stroke-width="0.8" />
<path d="M225,534.5 C230.5,536.5 247.3,542 258.1,546.6 C268.9,551.2 284.7,559.4 290,562" fill="none" stroke="#000" stroke-width="1" />
<path d="M290,562 C292.1,563 298,566 302.4,568.2 C306.8,570.4 309.8,571.6 316.6,575.3 C323.4,579 332.9,585.5 343.3,590.4 C353.7,595.3 372.9,602.2 378.8,604.6" fill="none" stroke="#000" stroke-width="1" />
<path d="M360,597.8 C364,599.4 378.6,605.5 384.2,607.5 C389.8,609.5 390.7,609.4 393.9,609.9 C397.1,610.4 399.6,610.7 403.6,610.8 C407.6,610.9 413.3,610.9 418.1,610.4 C422.9,609.9 427.6,608.7 432.6,607.5 C437.6,606.3 440.2,606.3 448.1,603.1 C456,599.9 465.9,594.5 480,588.1 C494.1,581.7 515.2,572.1 532.7,564.6 C550.2,557.1 573.1,548.8 585,543.3 C596.9,537.8 597.8,536.5 604.3,531.7 C610.8,526.9 618.5,520.8 623.7,514.3 C628.9,507.8 632.1,500.1 635.3,493 C638.5,485.9 641.5,479.1 643.1,471.7 C644.7,464.3 644.7,452.3 645,448.4" fill="none" stroke="#000" stroke-width="1" />
<path d="M393.9,626.8 C396,627 401.6,627.5 406.5,627.8 C411.4,628 417.8,628.6 423,628.3 C428.2,628 433.3,627.1 437.5,625.9 C441.7,624.7 441,624.2 448.1,621 C455.2,617.8 466.1,612.7 480,606.5 C493.9,600.3 508,594 531.7,583.9 C555.4,573.8 604,554.2 622,545.8 C640,537.4 635.3,538.2 640,533.6 C644.7,529 648.3,520.6 650,518" fill="none" stroke="#000" stroke-width="1" />
<path d="M393.4,626.8 C393.4,622.6 392.8,607.4 393.4,601.6 C394,595.8 395.3,594.7 396.8,592 C398.3,589.3 400.7,586.8 402.6,585.2 C404.5,583.6 407.4,582.8 408.4,582.3" fill="none" stroke="#000" stroke-width="1" />
<path d="M448.6,626.8 C448.6,622.8 449.3,609.4 448.6,603.1 C447.9,596.8 446.2,592.9 444.3,589.1 C442.4,585.3 439.9,582.2 437.5,580.3 C435.1,578.3 431,577.9 429.7,577.4" fill="none" stroke="#000" stroke-width="1" />
<path d="M451,599.7 C450,597.6 447.4,590.8 445.2,587.1 C442.9,583.4 440.4,580 437.5,577.4 C434.6,574.8 429.4,572.6 427.8,571.6" fill="none" stroke="#000" stroke-width="0.9" />
<path d="M457.8,596.8 C457,594.9 455.2,588.9 453,585.2 C450.8,581.5 446.9,576.7 444.3,574.5 C441.7,572.3 438.6,572.5 437.5,572.1" fill="none" stroke="#000" stroke-width="0.9" />
<path d="M400.7,584.7 C402.9,584.5 409.7,584.4 414.2,583.2 C418.7,582 423.9,579.2 427.8,577.4 C431.7,575.6 431.1,575.2 437.5,572.6 C443.9,570 461.7,563.8 466.5,562" fill="none" stroke="#000" stroke-width="0.9" />
<path d="M466.5,562 C467.8,563 472.1,565.5 474.3,567.7 C476.6,570 478.7,572.1 480,575.5 C481.3,578.9 481.9,585.8 482.3,587.9" fill="none" stroke="#000" stroke-width="0.9" />
<path d="M215.5,522 L215.5,544" fill="none" stroke="#000" stroke-width="0.9" />
<path d="M453.2,601.5 L449.4,626.6" fill="none" stroke="#000" stroke-width="0.8" />
<path d="M507.5,543.3 C509.4,545.6 515.9,552.4 519.1,556.9 C522.3,561.4 525,566 526.9,570.5 C528.8,575 529.7,580.5 530.7,584 C531.7,587.5 532.4,590.5 532.7,591.8" fill="none" stroke="#000" stroke-width="0.9" />
<path d="M488,552 C490,553.7 497.2,558.1 500,562 C502.8,565.9 504.2,573.2 505,575.5" fill="none" stroke="#000" stroke-width="0.9" />
<path d="M565.6,520.1 C567.9,522 576,527.8 579.2,531.7 C582.4,535.6 584,541.4 585,543.3" fill="none" stroke="#000" stroke-width="0.9" />
<path d="M585,507.5 C587.6,508.9 596,512.8 600.5,516.2 C605,519.6 608.6,522.6 612.1,527.8 C615.6,533 620.2,544 621.8,547.2" fill="none" stroke="#000" stroke-width="0.9" />
<path d="M594.6,496.9 C596.9,497.9 603.4,499.8 608.2,502.7 C613.1,505.6 621.1,512.4 623.7,514.3" fill="none" stroke="#000" stroke-width="0.9" />
<path d="M602.4,483.3 L633.4,494.9" fill="none" stroke="#000" stroke-width="0.9" />
<path d="M609.2,463.9 L641.1,471.7" fill="none" stroke="#000" stroke-width="0.9" />
<path d="M643.1,471.7 L655.7,491" fill="none" stroke="#000" stroke-width="0.9" />
<path d="M598.5,440.7 C600.4,441.5 602.4,444.2 610.1,445.5 C617.9,446.8 639.2,447.9 645,448.4" fill="none" stroke="#000" stroke-width="0.9" />
<path d="M612.1,400 C611.6,410.6 610.8,450.3 609.2,463.9 C607.6,477.5 605.1,475.9 602.4,481.4 C599.6,486.9 596.6,492.4 592.7,496.9 C588.8,501.4 583.7,505.3 579.2,508.5 C574.7,511.7 570.1,514.1 565.6,516.2 C561.1,518.3 557.2,521.1 552,521.1 C546.8,521.1 537.5,517 534.6,516.2" fill="none" stroke="#000" stroke-width="1" />
<path d="M599.4,420 C599.2,423.4 599.6,436.3 598.5,440.7 C597.4,445.1 595,442 592.7,446.5 C590.5,451 588.2,461 585,467.8 C581.8,474.6 578.5,481.4 573.3,487.2 C568.1,493 560.5,497.9 554,502.7 C547.5,507.5 537.8,514 534.6,516.2" fill="none" stroke="#000" stroke-width="1" />
<path d="M596,446 C594.7,449.7 591.3,461 588,468 C584.7,475 580.8,482.3 576,488 C571.2,493.7 565,498 559,502 C553,506 543.2,510.3 540,512" fill="none" stroke="#000" stroke-width="0.8" />
<path d="M457.5,386.5 L590.8,446.5" fill="none" stroke="#000" stroke-width="1" />
<path d="M602.2,361.5 C601.9,367.1 601,385.2 600.5,395 C600,404.8 599.6,415.8 599.4,420" fill="none" stroke="#000" stroke-width="1" />
<path d="M610.5,266.9 C611.1,270.1 613.5,275.7 614.3,286.2 C615.1,296.7 615.3,314.4 615.3,330 C615.2,345.6 614.5,368.3 614,380 C613.5,391.7 612.4,396.7 612.1,400" fill="none" stroke="#000" stroke-width="1" />
<path d="M633.7,253.3 C635.6,256.5 642.4,265.6 645.3,272.7 C648.2,279.8 649.8,286.3 651.1,295.9 C652.4,305.4 653,314.3 653.1,330 C653.2,345.7 652.4,374.2 651.5,390 C650.6,405.8 649.1,415.3 648,425 C646.9,434.7 645.5,444.5 645,448.4" fill="none" stroke="#000" stroke-width="1" />
<path d="M617.9,329.2 C620.8,329.5 629.8,330.8 635.3,331.1 C640.8,331.4 646.3,331.8 650.8,331.1 C655.3,330.5 660.5,327.9 662.4,327.2" fill="none" stroke="#000" stroke-width="0.9" />
<path d="M612.4,261 L633.7,253.3" fill="none" stroke="#000" stroke-width="0.9" />
<path d="M512.7,187.3 C514.2,187.3 516.7,186.7 521.4,187.4 C526.1,188.1 526.8,185.5 540.7,191.3 C554.6,197.1 592.1,215.9 604.6,222.3 C617.1,228.7 612.9,227.2 616,229.5 C619.1,231.8 621.8,234.9 623,236" fill="none" stroke="#000" stroke-width="1" />
<path d="M521.4,210.7 C522.4,208.8 524.9,202.3 527.2,199.1 C529.5,195.9 532.1,193.4 535,191.5 C537.9,189.6 543,188.1 544.6,187.4" fill="none" stroke="#000" stroke-width="0.9" />
<path d="M587.2,243.6 C588.2,241.3 590.4,233.6 593,230 C595.6,226.4 599.5,224.4 602.7,222.3 C605.9,220.2 610.8,218.3 612.4,217.5" fill="none" stroke="#000" stroke-width="0.9" />
<path d="M497,212.5 C498,212.1 500.7,210.7 503,210.3 C505.3,209.9 508.3,209.7 511,210 C513.7,210.3 505.6,206.4 519,212 C532.4,217.6 577.3,237.1 591.1,243.6 C604.9,250.1 599.4,247.9 602,251 C604.6,254.1 605.8,260.2 606.5,262" fill="none" stroke="#000" stroke-width="1" />
<path d="M499,266.5 L586.5,304 Q591.8,306.5 591.4,312 L589.8,334 Q589,341 583,339.2 L498.5,300.5 Q492.5,297.5 492.7,291 L494.3,272 Q495,265.5 499,266.5 Z" fill="none" stroke="#000" stroke-width="2.2"/>
<path d="M330,448.7 C337,446 361.5,437.2 372,432.5 C382.5,427.8 387.4,423.9 393,420.4 C398.6,416.9 401.7,415.5 405.9,411.6 C410.1,407.7 414.5,402.2 418,397 C421.5,391.8 424.3,385.9 426.9,380.1 C429.4,374.3 430.3,372.3 433.3,362.3 C436.3,352.3 441.1,333.7 444.9,320 C448.7,306.3 453.1,290.4 456,280 C458.9,269.6 460.5,263.5 462.4,257.4 C464.3,251.3 465.1,248.1 467.5,243.3 C469.9,238.5 473.3,233.1 476.5,228.6 C479.7,224.1 484.4,218.8 486.7,216.2 C488.9,213.6 489.4,213.5 490,213" fill="none" stroke="#000" stroke-width="1" />
<path d="M453.5,373.6 C454.4,369.3 457.1,356.7 459.1,347.8 C461.2,338.9 463.5,330.1 465.8,320 C468.1,309.9 471.1,297 473.1,287.3 C475.1,277.6 477.2,266.2 478,262" fill="none" stroke="#000" stroke-width="1" />
<path d="M453.5,373.6 L457.5,385.7" fill="none" stroke="#000" stroke-width="1" />
<path d="M451.6,248.9 L462.4,257.4" fill="none" stroke="#000" stroke-width="0.9" />
<path d="M422.8,354.3 C424.6,355.8 428.2,359.9 433.3,363.1 C438.4,366.3 450.1,371.6 453.5,373.3" fill="none" stroke="#000" stroke-width="0.9" />
<path d="M413.9,371.2 L426.9,380.1" fill="none" stroke="#000" stroke-width="0.9" />
<path d="M404.3,389.8 L418,397.8" fill="none" stroke="#000" stroke-width="0.9" />
<path d="M393,402.7 L405.9,411.6" fill="none" stroke="#000" stroke-width="0.9" />
<path d="M381.7,413.2 L393.8,420.4" fill="none" stroke="#000" stroke-width="0.9" />
<path d="M418,397 C420.6,396.5 426.7,395.6 433.3,393.8 C439.9,392.1 453.5,387.7 457.5,386.5" fill="none" stroke="#000" stroke-width="1" />
<path d="M459.1,387.3 C458.6,390.9 458.6,402.2 455.9,409.1 C453.2,416 447.8,422.6 443,428.5 C438.2,434.4 432.4,439.8 426.9,444.7 C421.4,449.6 412.7,455.5 409.9,457.6" fill="none" stroke="#000" stroke-width="1" />
<path d="M457.5,388.2 C456.7,391.1 456.5,398.9 452.7,405.9 C448.9,412.9 442,423 434.9,430.1 C427.8,437.2 414.1,445.6 409.9,448.7" fill="none" stroke="#000" stroke-width="1" />
<path d="M405.9,411.6 C406.4,413.9 408.4,417.6 409.1,425.3 C409.8,433 409.8,452.2 409.9,457.6" fill="none" stroke="#000" stroke-width="1" />
<path d="M360.7,425.3 C362.6,426.6 368.2,429.5 372,433.3 C375.8,437.1 379.5,443.8 383.3,447.9 C387.1,451.9 392.7,456 394.6,457.6" fill="none" stroke="#000" stroke-width="1" />
<path d="M376.8,461.6 C379.8,460.9 389.1,458.3 394.6,457.6 C400.1,456.9 407.3,457.6 409.9,457.6" fill="none" stroke="#000" stroke-width="1" />
<path d="M330,448.7 C326.4,449.8 320.5,450.8 308.5,455.5 C296.5,460.2 269.7,471.4 258.1,476.9 C246.5,482.4 243.2,485.3 238.7,488.5 C234.2,491.7 232.4,493.6 231,496.2 C229.6,498.8 229.5,502.1 230,504 C230.5,505.9 232.1,506.5 233.9,507.8 C235.7,509.1 239.6,511.1 240.7,511.7" fill="none" stroke="#000" stroke-width="1" />
<path d="M300.7,449.1 L309.8,454.9" fill="none" stroke="#000" stroke-width="0.9" />
<path d="M281.4,457.4 C282.9,458.3 287.6,460.2 290.4,462.6 C293.2,465 294.9,468.7 298.1,471.7 C301.3,474.7 307.9,479.2 309.8,480.7" fill="none" stroke="#000" stroke-width="0.9" />
<path d="M260.7,467.1 C262.2,468.1 266.9,470.8 269.7,472.9 C272.5,474.9 274.5,477.4 277.5,479.4 C280.5,481.3 286.1,483.7 287.8,484.6" fill="none" stroke="#000" stroke-width="0.9" />
<path d="M238.7,480.7 C239.8,481.8 242.6,485 245.2,487.1 C247.8,489.2 251.4,491.9 254.2,493.6 C257,495.3 260.7,496.9 262,497.5" fill="none" stroke="#000" stroke-width="0.9" />
<path d="M513.8,186.8 C511.7,187.3 504.6,188.3 501.4,189.6 C498.2,190.9 496.3,192.7 494.6,194.7 C492.9,196.7 492.1,198.9 491.2,201.5 C490.2,204.1 490.6,203.3 488.9,210.5 C487.2,217.7 483.1,232 481,244.4 C478.9,256.8 477.2,274.9 476.5,285 C475.8,295.1 476.1,299.5 476.5,305 C476.9,310.5 477.4,313.3 479,318 C480.6,322.7 483.7,329 486,333 C488.3,337 489.8,339 493,342 C496.2,345 498.8,347.3 505,351 C511.2,354.7 523.1,361 530,364 C536.9,367 540.3,366.7 546.2,369 C552.1,371.3 561.1,375.4 565.6,377.6 C570.1,379.9 570.1,381.5 573.3,382.5 C576.5,383.5 581.5,384.4 585,383.4 C588.5,382.4 592,379.8 594.6,376.6 C597.2,373.4 598.9,370.9 600.5,364 C602.1,357.1 603.3,345.6 604.3,335 C605.3,324.4 605.5,311.4 606.3,300.1 C607.1,288.8 608,275.6 609.1,267.2 C610.2,258.8 611.5,254.1 613,250 C614.5,245.9 616.2,244.5 618,242.5 C619.8,240.5 622.8,238.8 623.7,238.1" stroke="#000" stroke-width="5.6" fill="none" stroke-linecap="round"/>
<path d="M513.8,186.8 C511.7,187.3 504.6,188.3 501.4,189.6 C498.2,190.9 496.3,192.7 494.6,194.7 C492.9,196.7 492.1,198.9 491.2,201.5 C490.2,204.1 490.6,203.3 488.9,210.5 C487.2,217.7 483.1,232 481,244.4 C478.9,256.8 477.2,274.9 476.5,285 C475.8,295.1 476.1,299.5 476.5,305 C476.9,310.5 477.4,313.3 479,318 C480.6,322.7 483.7,329 486,333 C488.3,337 489.8,339 493,342 C496.2,345 498.8,347.3 505,351 C511.2,354.7 523.1,361 530,364 C536.9,367 540.3,366.7 546.2,369 C552.1,371.3 561.1,375.4 565.6,377.6 C570.1,379.9 570.1,381.5 573.3,382.5 C576.5,383.5 581.5,384.4 585,383.4 C588.5,382.4 592,379.8 594.6,376.6 C597.2,373.4 598.9,370.9 600.5,364 C602.1,357.1 603.3,345.6 604.3,335 C605.3,324.4 605.5,311.4 606.3,300.1 C607.1,288.8 608,275.6 609.1,267.2 C610.2,258.8 611.5,254.1 613,250 C614.5,245.9 616.2,244.5 618,242.5 C619.8,240.5 622.8,238.8 623.7,238.1" stroke="#fff" stroke-width="3.6" fill="none"/>
<path d="M513.8,186.8 C511.7,187.3 504.6,188.3 501.4,189.6 C498.2,190.9 496.3,192.7 494.6,194.7 C492.9,196.7 492.1,198.9 491.2,201.5 C490.2,204.1 490.6,203.3 488.9,210.5 C487.2,217.7 483.1,232 481,244.4 C478.9,256.8 477.2,274.9 476.5,285 C475.8,295.1 476.1,299.5 476.5,305 C476.9,310.5 477.4,313.3 479,318 C480.6,322.7 483.7,329 486,333 C488.3,337 489.8,339 493,342 C496.2,345 498.8,347.3 505,351 C511.2,354.7 523.1,361 530,364 C536.9,367 540.3,366.7 546.2,369 C552.1,371.3 561.1,375.4 565.6,377.6 C570.1,379.9 570.1,381.5 573.3,382.5 C576.5,383.5 581.5,384.4 585,383.4 C588.5,382.4 592,379.8 594.6,376.6 C597.2,373.4 598.9,370.9 600.5,364 C602.1,357.1 603.3,345.6 604.3,335 C605.3,324.4 605.5,311.4 606.3,300.1 C607.1,288.8 608,275.6 609.1,267.2 C610.2,258.8 611.5,254.1 613,250 C614.5,245.9 616.2,244.5 618,242.5 C619.8,240.5 622.8,238.8 623.7,238.1" stroke="#000" stroke-width="3.6" fill="none" stroke-dasharray="0.9 2.3"/>
<path d="M513.8,186.8 C511.7,187.3 504.6,188.3 501.4,189.6 C498.2,190.9 496.3,192.7 494.6,194.7 C492.9,196.7 492.1,198.9 491.2,201.5 C490.2,204.1 490.6,203.3 488.9,210.5 C487.2,217.7 483.1,232 481,244.4 C478.9,256.8 477.2,274.9 476.5,285 C475.8,295.1 476.1,299.5 476.5,305 C476.9,310.5 477.4,313.3 479,318 C480.6,322.7 483.7,329 486,333 C488.3,337 489.8,339 493,342 C496.2,345 498.8,347.3 505,351 C511.2,354.7 523.1,361 530,364 C536.9,367 540.3,366.7 546.2,369 C552.1,371.3 561.1,375.4 565.6,377.6 C570.1,379.9 570.1,381.5 573.3,382.5 C576.5,383.5 581.5,384.4 585,383.4 C588.5,382.4 592,379.8 594.6,376.6 C597.2,373.4 598.9,370.9 600.5,364 C602.1,357.1 603.3,345.6 604.3,335 C605.3,324.4 605.5,311.4 606.3,300.1 C607.1,288.8 608,275.6 609.1,267.2 C610.2,258.8 611.5,254.1 613,250 C614.5,245.9 616.2,244.5 618,242.5 C619.8,240.5 622.8,238.8 623.7,238.1" stroke="#000" stroke-width="0.6" fill="none"/>
<path d="M224.2,535 C224,533.7 222.4,530.4 223.2,527.2 C224,524 226.4,518.8 229,515.6 C231.6,512.4 233.8,510.7 238.7,507.8 C243.5,504.9 248.4,502.1 258.1,498.2 C267.8,494.3 284,488.8 296.9,484.6 C309.8,480.4 323.3,476.2 335.6,473 C347.9,469.8 360.8,467.1 370.5,465.5 C380.2,463.9 387.6,463.6 394,463.2 C400.4,462.8 404.1,462.8 409.2,463.2 C414.3,463.6 418.9,463.9 424.7,465.5 C430.5,467.1 436.9,469.8 444,472.5 C451.1,475.2 457.6,477.6 467.5,482 C477.4,486.4 495.7,494.4 503.6,498.8 C511.6,503.2 512.6,505.6 515.2,508.5 C517.8,511.4 519.1,513.3 519.1,516.2 C519.1,519.1 517.8,523 515.2,525.9 C512.6,528.8 511.4,530.4 503.6,533.7 C495.9,537 479.7,541.4 468.7,545.8 C457.7,550.2 445.9,556.4 437.5,560 C429.1,563.6 424.6,565 418.1,567.7 C411.6,570.5 403.5,573.9 398.7,576.5 C393.9,579.1 391.8,580.8 389.1,583.2 C386.4,585.6 384,588.4 382.3,591 C380.6,593.6 379.4,596.3 378.9,598.7 C378.4,601.1 379.3,604.4 379.4,605.5" stroke="#000" stroke-width="4.6" fill="none" stroke-linecap="round"/>
<path d="M224.2,535 C224,533.7 222.4,530.4 223.2,527.2 C224,524 226.4,518.8 229,515.6 C231.6,512.4 233.8,510.7 238.7,507.8 C243.5,504.9 248.4,502.1 258.1,498.2 C267.8,494.3 284,488.8 296.9,484.6 C309.8,480.4 323.3,476.2 335.6,473 C347.9,469.8 360.8,467.1 370.5,465.5 C380.2,463.9 387.6,463.6 394,463.2 C400.4,462.8 404.1,462.8 409.2,463.2 C414.3,463.6 418.9,463.9 424.7,465.5 C430.5,467.1 436.9,469.8 444,472.5 C451.1,475.2 457.6,477.6 467.5,482 C477.4,486.4 495.7,494.4 503.6,498.8 C511.6,503.2 512.6,505.6 515.2,508.5 C517.8,511.4 519.1,513.3 519.1,516.2 C519.1,519.1 517.8,523 515.2,525.9 C512.6,528.8 511.4,530.4 503.6,533.7 C495.9,537 479.7,541.4 468.7,545.8 C457.7,550.2 445.9,556.4 437.5,560 C429.1,563.6 424.6,565 418.1,567.7 C411.6,570.5 403.5,573.9 398.7,576.5 C393.9,579.1 391.8,580.8 389.1,583.2 C386.4,585.6 384,588.4 382.3,591 C380.6,593.6 379.4,596.3 378.9,598.7 C378.4,601.1 379.3,604.4 379.4,605.5" stroke="#fff" stroke-width="2.6" fill="none"/>
<path d="M224.2,535 C224,533.7 222.4,530.4 223.2,527.2 C224,524 226.4,518.8 229,515.6 C231.6,512.4 233.8,510.7 238.7,507.8 C243.5,504.9 248.4,502.1 258.1,498.2 C267.8,494.3 284,488.8 296.9,484.6 C309.8,480.4 323.3,476.2 335.6,473 C347.9,469.8 360.8,467.1 370.5,465.5 C380.2,463.9 387.6,463.6 394,463.2 C400.4,462.8 404.1,462.8 409.2,463.2 C414.3,463.6 418.9,463.9 424.7,465.5 C430.5,467.1 436.9,469.8 444,472.5 C451.1,475.2 457.6,477.6 467.5,482 C477.4,486.4 495.7,494.4 503.6,498.8 C511.6,503.2 512.6,505.6 515.2,508.5 C517.8,511.4 519.1,513.3 519.1,516.2 C519.1,519.1 517.8,523 515.2,525.9 C512.6,528.8 511.4,530.4 503.6,533.7 C495.9,537 479.7,541.4 468.7,545.8 C457.7,550.2 445.9,556.4 437.5,560 C429.1,563.6 424.6,565 418.1,567.7 C411.6,570.5 403.5,573.9 398.7,576.5 C393.9,579.1 391.8,580.8 389.1,583.2 C386.4,585.6 384,588.4 382.3,591 C380.6,593.6 379.4,596.3 378.9,598.7 C378.4,601.1 379.3,604.4 379.4,605.5" stroke="#000" stroke-width="2.6" fill="none" stroke-dasharray="0.8 7"/>
<path d="M224.2,535 C224,533.7 222.4,530.4 223.2,527.2 C224,524 226.4,518.8 229,515.6 C231.6,512.4 233.8,510.7 238.7,507.8 C243.5,504.9 248.4,502.1 258.1,498.2 C267.8,494.3 284,488.8 296.9,484.6 C309.8,480.4 323.3,476.2 335.6,473 C347.9,469.8 360.8,467.1 370.5,465.5 C380.2,463.9 387.6,463.6 394,463.2 C400.4,462.8 404.1,462.8 409.2,463.2 C414.3,463.6 418.9,463.9 424.7,465.5 C430.5,467.1 436.9,469.8 444,472.5 C451.1,475.2 457.6,477.6 467.5,482 C477.4,486.4 495.7,494.4 503.6,498.8 C511.6,503.2 512.6,505.6 515.2,508.5 C517.8,511.4 519.1,513.3 519.1,516.2 C519.1,519.1 517.8,523 515.2,525.9 C512.6,528.8 511.4,530.4 503.6,533.7 C495.9,537 479.7,541.4 468.7,545.8 C457.7,550.2 445.9,556.4 437.5,560 C429.1,563.6 424.6,565 418.1,567.7 C411.6,570.5 403.5,573.9 398.7,576.5 C393.9,579.1 391.8,580.8 389.1,583.2 C386.4,585.6 384,588.4 382.3,591 C380.6,593.6 379.4,596.3 378.9,598.7 C378.4,601.1 379.3,604.4 379.4,605.5" stroke="#666" stroke-width="0.5" fill="none"/>
<path d="M467.3,488 C462.8,489.1 452.3,491 440,494.3 C427.7,497.6 407.9,503.6 393.7,507.8 C379.5,512 364.7,516.3 355,519.5 C345.3,522.7 342.1,524 335.6,527.2 C329.1,530.4 321.4,535.6 316.2,538.8 C311,542 307.5,544 304.6,546.6 C301.7,549.2 299.8,551.7 298.8,554.3 C297.8,556.9 298.2,559.9 298.8,562 C299.4,564.1 302.1,566.1 302.7,566.9" stroke="#000" stroke-width="4.4" fill="none" stroke-linecap="round"/>
<path d="M467.3,488 C462.8,489.1 452.3,491 440,494.3 C427.7,497.6 407.9,503.6 393.7,507.8 C379.5,512 364.7,516.3 355,519.5 C345.3,522.7 342.1,524 335.6,527.2 C329.1,530.4 321.4,535.6 316.2,538.8 C311,542 307.5,544 304.6,546.6 C301.7,549.2 299.8,551.7 298.8,554.3 C297.8,556.9 298.2,559.9 298.8,562 C299.4,564.1 302.1,566.1 302.7,566.9" stroke="#fff" stroke-width="2.4" fill="none"/>
<path d="M467.3,488 C462.8,489.1 452.3,491 440,494.3 C427.7,497.6 407.9,503.6 393.7,507.8 C379.5,512 364.7,516.3 355,519.5 C345.3,522.7 342.1,524 335.6,527.2 C329.1,530.4 321.4,535.6 316.2,538.8 C311,542 307.5,544 304.6,546.6 C301.7,549.2 299.8,551.7 298.8,554.3 C297.8,556.9 298.2,559.9 298.8,562 C299.4,564.1 302.1,566.1 302.7,566.9" stroke="#000" stroke-width="2.4" fill="none" stroke-dasharray="0.8 7"/>
<path d="M467.3,488 C462.8,489.1 452.3,491 440,494.3 C427.7,497.6 407.9,503.6 393.7,507.8 C379.5,512 364.7,516.3 355,519.5 C345.3,522.7 342.1,524 335.6,527.2 C329.1,530.4 321.4,535.6 316.2,538.8 C311,542 307.5,544 304.6,546.6 C301.7,549.2 299.8,551.7 298.8,554.3 C297.8,556.9 298.2,559.9 298.8,562 C299.4,564.1 302.1,566.1 302.7,566.9" stroke="#666" stroke-width="0.5" fill="none"/>
<path d="M273.6,499.1 C276.8,499 286.6,497.4 293,498.5 C299.4,499.6 307.1,503 312.3,505.9 C317.5,508.8 321.6,513 324,515.6 C326.4,518.2 326.4,520.4 326.9,521.4" fill="none" stroke="#000" stroke-width="0.9" />
<path d="M236.8,509.8 C241.3,511.9 253.9,518.2 263.9,522.4 C273.9,526.6 289.1,531.9 296.9,535 C304.6,538.1 308.1,539.8 310.4,540.8" fill="none" stroke="#000" stroke-width="0.9" />
<path d="M326.9,521.4 C330.3,520.4 338,517.5 347.2,515.6 C356.4,513.7 376.3,511.1 382.1,510.2" fill="none" stroke="#000" stroke-width="0.9" />
<path d="M312.3,482.7 C316.2,483.3 326.9,483.9 335.6,486.5 C344.3,489.1 357.3,494 364.7,498.2 C372.1,502.4 377.5,509.4 380.1,511.7" fill="none" stroke="#000" stroke-width="0.9" />
<path d="M296.9,536.9 C295.6,538.8 290.9,544.5 289.1,548.5 C287.3,552.5 286.7,559 286.2,561.1" fill="none" stroke="#000" stroke-width="0.9" />
<path d="M356.9,535 C361.4,535.6 375.9,536.9 384,538.8 C392.1,540.7 399.8,543.7 405.3,546.6 C410.8,549.5 414.4,553.1 417,556.3 C419.6,559.5 420.2,564.4 420.8,566" fill="none" stroke="#000" stroke-width="0.9" />
<path d="M327.8,550.5 C326.5,551.8 322,554.3 320.1,558.2 C318.2,562.1 316.9,571.1 316.2,573.7" fill="none" stroke="#000" stroke-width="0.9" />
<path d="M382.1,511.7 C380.8,513 377.9,515.6 374.3,519.5 C370.8,523.4 368.1,529.6 360.8,535 C353.6,540.4 335.8,549 330.8,551.8" fill="none" stroke="#000" stroke-width="0.9" />
<path d="M310.4,540.8 C314.5,542.3 325.9,546.5 335,550 C344.1,553.5 355.5,556.9 365,562 C374.5,567.1 387.5,577.7 392,580.8" fill="none" stroke="#000" stroke-width="0.9" />
<path d="M430,524 C432.6,525.3 440.6,528.5 445.5,531.7 C450.4,534.9 455.2,539.4 459.1,543.3 C463,547.2 467.1,553 468.7,555" fill="none" stroke="#000" stroke-width="0.9" />
<path d="M381,512 C385.2,512.6 396.8,513.3 406.2,515.9 C415.6,518.5 429.1,523.3 437.2,527.5 C445.3,531.7 450.7,537.5 454.6,541 C458.5,544.5 459.5,547.5 460.5,548.8" fill="none" stroke="#000" stroke-width="0.9" />
<path d="M228.2,1379.5 L279,1359" fill="none" stroke="#000" stroke-width="1" />
<path d="M228.2,1379.5 L231.5,1382.7 L233.1,1392.4 L242.8,1398.8 L246,1398.8" fill="none" stroke="#000" stroke-width="1" />
<line x1="231.5" y1="1382.7" x2="282" y2="1362.5" stroke="#000" stroke-width="0.9" />
<line x1="242.8" y1="1385.9" x2="296" y2="1364.9" stroke="#000" stroke-width="1" />
<line x1="244.4" y1="1389.5" x2="298" y2="1368.3" stroke="#000" stroke-width="0.9" />
<line x1="246" y1="1398.8" x2="300" y2="1377" stroke="#000" stroke-width="1" />
<line x1="250" y1="1392" x2="296" y2="1373" stroke="#000" stroke-width="2.4" stroke-dasharray="1.6 1.2"/>
<rect x="275" y="1378.0" width="3" height="4" fill="#fff" stroke="#000" stroke-width="0.8"/>
<rect x="282" y="1375.2" width="3" height="4" fill="#fff" stroke="#000" stroke-width="0.8"/>
<rect x="290" y="1372.0" width="3" height="4" fill="#fff" stroke="#000" stroke-width="0.8"/>
<path d="M279,1353.6 L296,1343 L485.2,1267.8 L508.3,1274.9 L511,1276.6 L511,1285.5 L300,1369 L299,1361 L281,1357 L279,1353.6" fill="#fff" stroke="#000" stroke-width="1" />
<line x1="299" y1="1361" x2="510" y2="1280.2" stroke="#000" stroke-width="1" />
<line x1="300" y1="1364.5" x2="510.5" y2="1283" stroke="#000" stroke-width="0.7" />
<line x1="442.6" y1="1313.9" x2="511" y2="1287.5" stroke="#000" stroke-width="2" stroke-dasharray="1.6 1.2"/>
<line x1="296" y1="1343" x2="299" y2="1361" stroke="#000" stroke-width="0.9" />
<path d="M293.3,1343 L293.3,1354 Q296.3,1355.8 299.3,1354 L299.3,1343" fill="#fff" stroke="#000" stroke-width="0.9"/>
<ellipse cx="296.3" cy="1343" rx="3" ry="1.4" fill="#fff" stroke="#000" stroke-width="0.9"/>
<path d="M488.4,1264 L488.4,1274 Q491.4,1275.8 494.4,1274 L494.4,1264" fill="#fff" stroke="#000" stroke-width="0.9"/>
<ellipse cx="491.4" cy="1264" rx="3" ry="1.4" fill="#fff" stroke="#000" stroke-width="0.9"/>
<path d="M395.5,1306.2 Q397,1302.5 402,1301.5 L409.1,1300 L417,1300.5 L434,1307.3 L441.9,1314.6 L438.5,1319.7 L434,1326.5 L431.7,1328.8 L413.6,1335.5 L397.8,1335.5 L393.3,1334.4 L383.1,1337.8 L375.2,1337.8 Q370,1336.5 371.8,1333.3 L377.5,1331 L393.3,1326.5 L412.5,1318.6 L415.9,1317.5 L409.1,1314.1 L397.8,1310.7 Z" fill="#fff" stroke="#000" stroke-width="1"/>
<ellipse cx="408" cy="1304.6" rx="6.2" ry="3.3" fill="#fff" stroke="#000" stroke-width="1.1"/>
<ellipse cx="408" cy="1305.8" rx="4.5" ry="2.2" fill="none" stroke="#000" stroke-width="0.7"/>
<ellipse cx="375.5" cy="1321.2" rx="2.6" ry="1.2" fill="#ccc" stroke="#000" stroke-width="0.9"/>
<path d="M438.5,1319.7 L441,1322.5 L440,1326 L436,1324.5" fill="none" stroke="#000" stroke-width="0.8" />
<line x1="392" y1="1333.5" x2="392" y2="1346" stroke="#000" stroke-width="0.9" />
<path d="M335.6,1355.5 C336.9,1354 340.9,1353.1 345,1351.5 C349.1,1349.9 354.2,1347.8 360,1346 C365.8,1344.2 376,1340.8 379.5,1340.5 C383,1340.2 383.4,1342.3 381,1344 C378.6,1345.7 371,1348.2 365,1350.5 C359,1352.8 349.7,1356.3 345,1358 C340.3,1359.7 338.6,1360.9 337,1360.5 C335.4,1360.1 334.3,1357 335.6,1355.5 Z" fill="#333" stroke="#000" stroke-width="0.8" />
<line x1="380" y1="1342.5" x2="389" y2="1339" stroke="#000" stroke-width="1.5" />
<line x1="299" y1="1372" x2="336" y2="1358" stroke="#000" stroke-width="1.3" />
<line x1="380" y1="1342" x2="400" y2="1334" stroke="#000" stroke-width="1" />
<line x1="315.4" y1="1382.7" x2="425" y2="1331" stroke="#000" stroke-width="1" />
<line x1="317" y1="1386.5" x2="426" y2="1335" stroke="#000" stroke-width="1" />
<path d="M278,1399.5 C278.7,1398.2 280.3,1396.4 284,1394.5 C287.7,1392.6 295,1390.1 300,1388 C305,1385.9 311,1382.3 314,1382 C317,1381.7 317.7,1384.7 318,1386 C318.3,1387.3 318.7,1388.3 316,1390 C313.3,1391.7 306.8,1394.2 302,1396 C297.2,1397.8 290.7,1400 287,1401 C283.3,1402 281.5,1402.2 280,1402 C278.5,1401.8 277.3,1400.8 278,1399.5 Z" fill="#fff" stroke="#000" stroke-width="0.9" />
<line x1="296" y1="1390" x2="300" y2="1396" stroke="#000" stroke-width="0.8" />
<line x1="304" y1="1386" x2="308" y2="1393" stroke="#000" stroke-width="0.8" />
<path d="M246.7,1396.5 L246.7,1404.5 Q249.2,1406.3 251.7,1404.5 L251.7,1396.5" fill="#fff" stroke="#000" stroke-width="0.9"/>
<ellipse cx="249.2" cy="1396.5" rx="2.5" ry="1.4" fill="#fff" stroke="#000" stroke-width="0.9"/>
<line x1="325.1" y1="1424.6" x2="378" y2="1404" stroke="#000" stroke-width="1" />
<path d="M325.1,1424.6 L328.5,1427.5 L329.5,1434 L340.3,1441.5 L343,1441.5" fill="none" stroke="#000" stroke-width="1" />
<line x1="328.5" y1="1427.5" x2="376" y2="1409.5" stroke="#000" stroke-width="0.9" />
<line x1="333" y1="1430.5" x2="380" y2="1413" stroke="#000" stroke-width="0.9" />
<line x1="343" y1="1441.5" x2="380" y2="1427" stroke="#000" stroke-width="1" />
<line x1="336" y1="1433" x2="376" y2="1418" stroke="#000" stroke-width="2.2" stroke-dasharray="1.6 1.2"/>
<path d="M374.2,1397.5 L392,1391 L584.7,1312.1 L606,1319.2 L607.7,1321 L607.7,1329.9 L380,1427 L378,1412.5 L376,1402 L374.2,1397.5" fill="#fff" stroke="#000" stroke-width="1" />
<line x1="378" y1="1412.5" x2="606.9" y2="1320.1" stroke="#000" stroke-width="1" />
<line x1="379" y1="1416" x2="607" y2="1323.5" stroke="#000" stroke-width="0.7" />
<line x1="400" y1="1416.5" x2="549.1" y2="1356.5" stroke="#000" stroke-width="2.4" stroke-dasharray="1.6 1.2"/>
<line x1="549" y1="1356.5" x2="606.9" y2="1331" stroke="#000" stroke-width="1" />
<line x1="392" y1="1391" x2="378" y2="1412.5" stroke="#000" stroke-width="0" />
<path d="M390,1388 L390,1398 Q393,1399.8 396,1398 L396,1388" fill="#fff" stroke="#000" stroke-width="0.9"/>
<ellipse cx="393" cy="1388" rx="3" ry="1.4" fill="#fff" stroke="#000" stroke-width="0.9"/>
<path d="M343.2,1441.5 L343.2,1446.5 Q345.5,1448.3 347.8,1446.5 L347.8,1441.5" fill="#fff" stroke="#000" stroke-width="0.9"/>
<ellipse cx="345.5" cy="1441.5" rx="2.2" ry="1.4" fill="#fff" stroke="#000" stroke-width="0.9"/>
<line x1="328" y1="1425.5" x2="374" y2="1406" stroke="#000" stroke-width="1.8" stroke-dasharray="1.6 1.2"/>
<path d="M584.3,1309 L584.3,1319 Q587.3,1320.8 590.3,1319 L590.3,1309" fill="#fff" stroke="#000" stroke-width="0.9"/>
<ellipse cx="587.3" cy="1309" rx="3" ry="1.4" fill="#fff" stroke="#000" stroke-width="0.9"/>
<path d="M531.5,1366 L531.5,1373 Q534,1374.8 536.5,1373 L536.5,1366" fill="#fff" stroke="#000" stroke-width="0.9"/>
<ellipse cx="534" cy="1366" rx="2.5" ry="1.4" fill="#fff" stroke="#000" stroke-width="0.9"/>
<ellipse cx="510.1" cy="1350.7" rx="3.2" ry="1.5" fill="#fff" stroke="#000" stroke-width="0.9"/>
<ellipse cx="476.3" cy="1363.6" rx="2.5" ry="1.2" fill="#fff" stroke="#000" stroke-width="0.9"/>
<line x1="948.3" y1="860" x2="948.3" y2="952" stroke="#000" stroke-width="1" />
<path d="M930.1,923.8 A19.3,6.2 0 0 1 968.7,926.5" stroke="#000" stroke-width="6.2" fill="none" stroke-linecap="round"/>
<path d="M930.1,923.8 A19.3,6.2 0 0 1 968.7,926.5" stroke="#fff" stroke-width="4" fill="none"/>
<path d="M930.1,923.8 A19.3,6.2 0 0 1 968.7,926.5" stroke="#000" stroke-width="4" fill="none" stroke-dasharray="1.1 2.6"/>
<path d="M930.1,913.1 A19.3,6.2 0 0 1 968.7,915.8" stroke="#000" stroke-width="6.2" fill="none" stroke-linecap="round"/>
<path d="M930.1,913.1 A19.3,6.2 0 0 1 968.7,915.8" stroke="#fff" stroke-width="4" fill="none"/>
<path d="M930.1,913.1 A19.3,6.2 0 0 1 968.7,915.8" stroke="#000" stroke-width="4" fill="none" stroke-dasharray="1.1 2.6"/>
<path d="M930.1,902.4 A19.3,6.2 0 0 1 968.7,905" stroke="#000" stroke-width="6.2" fill="none" stroke-linecap="round"/>
<path d="M930.1,902.4 A19.3,6.2 0 0 1 968.7,905" stroke="#fff" stroke-width="4" fill="none"/>
<path d="M930.1,902.4 A19.3,6.2 0 0 1 968.7,905" stroke="#000" stroke-width="4" fill="none" stroke-dasharray="1.1 2.6"/>
<path d="M930.1,891.6 A19.3,6.2 0 0 1 968.7,894.3" stroke="#000" stroke-width="6.2" fill="none" stroke-linecap="round"/>
<path d="M930.1,891.6 A19.3,6.2 0 0 1 968.7,894.3" stroke="#fff" stroke-width="4" fill="none"/>
<path d="M930.1,891.6 A19.3,6.2 0 0 1 968.7,894.3" stroke="#000" stroke-width="4" fill="none" stroke-dasharray="1.1 2.6"/>
<path d="M930.1,880.9 A19.3,6.2 0 0 1 968.7,883.6" stroke="#000" stroke-width="6.2" fill="none" stroke-linecap="round"/>
<path d="M930.1,880.9 A19.3,6.2 0 0 1 968.7,883.6" stroke="#fff" stroke-width="4" fill="none"/>
<path d="M930.1,880.9 A19.3,6.2 0 0 1 968.7,883.6" stroke="#000" stroke-width="4" fill="none" stroke-dasharray="1.1 2.6"/>
<path d="M930.1,870.2 A19.3,6.2 0 0 1 968.7,872.9" stroke="#000" stroke-width="6.2" fill="none" stroke-linecap="round"/>
<path d="M930.1,870.2 A19.3,6.2 0 0 1 968.7,872.9" stroke="#fff" stroke-width="4" fill="none"/>
<path d="M930.1,870.2 A19.3,6.2 0 0 1 968.7,872.9" stroke="#000" stroke-width="4" fill="none" stroke-dasharray="1.1 2.6"/>
<path d="M968.7,926.5 A19.3,6.2 0 0 1 930.1,929.2" stroke="#000" stroke-width="6.2" fill="none" stroke-linecap="round"/>
<path d="M968.7,926.5 A19.3,6.2 0 0 1 930.1,929.2" stroke="#fff" stroke-width="4" fill="none"/>
<path d="M968.7,926.5 A19.3,6.2 0 0 1 930.1,929.2" stroke="#000" stroke-width="4" fill="none" stroke-dasharray="1.1 2.6"/>
<path d="M968.7,915.8 A19.3,6.2 0 0 1 930.1,918.4" stroke="#000" stroke-width="6.2" fill="none" stroke-linecap="round"/>
<path d="M968.7,915.8 A19.3,6.2 0 0 1 930.1,918.4" stroke="#fff" stroke-width="4" fill="none"/>
<path d="M968.7,915.8 A19.3,6.2 0 0 1 930.1,918.4" stroke="#000" stroke-width="4" fill="none" stroke-dasharray="1.1 2.6"/>
<path d="M968.7,905 A19.3,6.2 0 0 1 930.1,907.7" stroke="#000" stroke-width="6.2" fill="none" stroke-linecap="round"/>
<path d="M968.7,905 A19.3,6.2 0 0 1 930.1,907.7" stroke="#fff" stroke-width="4" fill="none"/>
<path d="M968.7,905 A19.3,6.2 0 0 1 930.1,907.7" stroke="#000" stroke-width="4" fill="none" stroke-dasharray="1.1 2.6"/>
<path d="M968.7,894.3 A19.3,6.2 0 0 1 930.1,897" stroke="#000" stroke-width="6.2" fill="none" stroke-linecap="round"/>
<path d="M968.7,894.3 A19.3,6.2 0 0 1 930.1,897" stroke="#fff" stroke-width="4" fill="none"/>
<path d="M968.7,894.3 A19.3,6.2 0 0 1 930.1,897" stroke="#000" stroke-width="4" fill="none" stroke-dasharray="1.1 2.6"/>
<path d="M968.7,883.6 A19.3,6.2 0 0 1 930.1,886.3" stroke="#000" stroke-width="6.2" fill="none" stroke-linecap="round"/>
<path d="M968.7,883.6 A19.3,6.2 0 0 1 930.1,886.3" stroke="#fff" stroke-width="4" fill="none"/>
<path d="M968.7,883.6 A19.3,6.2 0 0 1 930.1,886.3" stroke="#000" stroke-width="4" fill="none" stroke-dasharray="1.1 2.6"/>
<path d="M968.7,872.9 A19.3,6.2 0 0 1 930.1,875.6" stroke="#000" stroke-width="6.2" fill="none" stroke-linecap="round"/>
<path d="M968.7,872.9 A19.3,6.2 0 0 1 930.1,875.6" stroke="#fff" stroke-width="4" fill="none"/>
<path d="M968.7,872.9 A19.3,6.2 0 0 1 930.1,875.6" stroke="#000" stroke-width="4" fill="none" stroke-dasharray="1.1 2.6"/>
<ellipse cx="946.8" cy="957" rx="8.4" ry="3.6" fill="#fff" stroke="#000" stroke-width="1.1"/>
<ellipse cx="946.8" cy="956.2" rx="4.2" ry="1.6" fill="#fff" stroke="#000" stroke-width="0.9"/>
<path d="M939.3,977.5 L943,973.9 L950.5,973.9 L954.3,977.5 L954.3,983.2 L950.5,986.8 L943,986.8 L939.3,983.2 Z" fill="#fff" stroke="#000" stroke-width="0.9" />
<path d="M939.3,977.5 L943,973.9 L950.5,973.9 L954.3,977.5" fill="none" stroke="#000" stroke-width="0.9" />
<path d="M954.3,977.5 L950.5,981.1 L943,981.1 L939.3,977.5" fill="none" stroke="#000" stroke-width="0.9" />
<line x1="950.5" y1="981.1" x2="950.5" y2="986.8" stroke="#000" stroke-width="0.7200000000000001" />
<line x1="943" y1="981.1" x2="943" y2="986.8" stroke="#000" stroke-width="0.7200000000000001" />
<ellipse cx="946.8" cy="977.5" rx="3.4" ry="1.9" fill="none" stroke="#000" stroke-width="0.7200000000000001"/>
<path d="M945.5,1016 L945.5,1050 Q950.5,1053 955.5,1050 L955.5,1016" fill="#fff" stroke="#000" stroke-width="0.9"/>
<line x1="945.5" y1="1029" x2="955.5" y2="1029" stroke="#000" stroke-width="0.7" />
<ellipse cx="950.5" cy="1015.5" rx="7.5" ry="2.5" fill="#fff" stroke="#000" stroke-width="1"/>
<path d="M946,1007 L946,1013 Q950.5,1015 955,1013 L955,1007" fill="#fff" stroke="#000" stroke-width="0.9"/>
<ellipse cx="950.5" cy="1007" rx="4.5" ry="1.6" fill="#fff" stroke="#000" stroke-width="0.9"/>
<path d="M944,1069 L944,1094 Q950.2,1097.5 956.4,1094 L956.4,1069" fill="#fff" stroke="#000" stroke-width="1"/>
<ellipse cx="950.2" cy="1069" rx="6.2" ry="2.2" fill="#fff" stroke="#000" stroke-width="1"/>
<ellipse cx="950.2" cy="1069" rx="3.5" ry="1.2" fill="#555" stroke="#000" stroke-width="0.9"/>
<ellipse cx="950.5" cy="1118.5" rx="22.3" ry="8" fill="#fff" stroke="#000" stroke-width="1"/>
<ellipse cx="950.5" cy="1119" rx="10" ry="3.6" fill="#fff" stroke="#000" stroke-width="1"/>
<path d="M919.5,1149.5 A31.2,11 0 0 0 981.5,1149.5" fill="none" stroke="#000" stroke-width="1.2"/>
<ellipse cx="950.5" cy="1147.5" rx="31" ry="10.5" fill="#fff" stroke="#000" stroke-width="1"/>
<ellipse cx="950.5" cy="1148" rx="14" ry="4.5" fill="none" stroke="#000" stroke-width="0.9"/>
<path d="M940.5,1138 L939,1147 Q950.5,1152 962,1147 L960.5,1138" fill="#fff" stroke="#000" stroke-width="0.9"/>
<ellipse cx="950.5" cy="1137.5" rx="10" ry="3.2" fill="#fff" stroke="#000" stroke-width="1"/>
<ellipse cx="950.5" cy="1137.5" rx="5" ry="1.7" fill="#555" stroke="#000" stroke-width="0.9"/>
<line x1="950.8" y1="1160" x2="950.8" y2="1172" stroke="#000" stroke-width="1" />
<path d="M944,1198.9 A6.6,2.6 0 0 1 957.2,1200.2" stroke="#000" stroke-width="3.6" fill="none" stroke-linecap="round"/>
<path d="M944,1198.9 A6.6,2.6 0 0 1 957.2,1200.2" stroke="#fff" stroke-width="1.4" fill="none"/>
<path d="M944,1198.9 A6.6,2.6 0 0 1 957.2,1200.2" stroke="#000" stroke-width="1.4" fill="none" stroke-dasharray="0.6 0.7"/>
<path d="M944,1193.7 A6.6,2.6 0 0 1 957.2,1195" stroke="#000" stroke-width="3.6" fill="none" stroke-linecap="round"/>
<path d="M944,1193.7 A6.6,2.6 0 0 1 957.2,1195" stroke="#fff" stroke-width="1.4" fill="none"/>
<path d="M944,1193.7 A6.6,2.6 0 0 1 957.2,1195" stroke="#000" stroke-width="1.4" fill="none" stroke-dasharray="0.6 0.7"/>
<path d="M944,1188.6 A6.6,2.6 0 0 1 957.2,1189.9" stroke="#000" stroke-width="3.6" fill="none" stroke-linecap="round"/>
<path d="M944,1188.6 A6.6,2.6 0 0 1 957.2,1189.9" stroke="#fff" stroke-width="1.4" fill="none"/>
<path d="M944,1188.6 A6.6,2.6 0 0 1 957.2,1189.9" stroke="#000" stroke-width="1.4" fill="none" stroke-dasharray="0.6 0.7"/>
<path d="M944,1183.4 A6.6,2.6 0 0 1 957.2,1184.7" stroke="#000" stroke-width="3.6" fill="none" stroke-linecap="round"/>
<path d="M944,1183.4 A6.6,2.6 0 0 1 957.2,1184.7" stroke="#fff" stroke-width="1.4" fill="none"/>
<path d="M944,1183.4 A6.6,2.6 0 0 1 957.2,1184.7" stroke="#000" stroke-width="1.4" fill="none" stroke-dasharray="0.6 0.7"/>
<path d="M944,1178.3 A6.6,2.6 0 0 1 957.2,1179.5" stroke="#000" stroke-width="3.6" fill="none" stroke-linecap="round"/>
<path d="M944,1178.3 A6.6,2.6 0 0 1 957.2,1179.5" stroke="#fff" stroke-width="1.4" fill="none"/>
<path d="M944,1178.3 A6.6,2.6 0 0 1 957.2,1179.5" stroke="#000" stroke-width="1.4" fill="none" stroke-dasharray="0.6 0.7"/>
<path d="M944,1173.1 A6.6,2.6 0 0 1 957.2,1174.4" stroke="#000" stroke-width="3.6" fill="none" stroke-linecap="round"/>
<path d="M944,1173.1 A6.6,2.6 0 0 1 957.2,1174.4" stroke="#fff" stroke-width="1.4" fill="none"/>
<path d="M944,1173.1 A6.6,2.6 0 0 1 957.2,1174.4" stroke="#000" stroke-width="1.4" fill="none" stroke-dasharray="0.6 0.7"/>
<path d="M957.2,1200.2 A6.6,2.6 0 0 1 944,1201.5" stroke="#000" stroke-width="3.6" fill="none" stroke-linecap="round"/>
<path d="M957.2,1200.2 A6.6,2.6 0 0 1 944,1201.5" stroke="#fff" stroke-width="1.4" fill="none"/>
<path d="M957.2,1200.2 A6.6,2.6 0 0 1 944,1201.5" stroke="#000" stroke-width="1.4" fill="none" stroke-dasharray="0.6 0.7"/>
<path d="M957.2,1195 A6.6,2.6 0 0 1 944,1196.3" stroke="#000" stroke-width="3.6" fill="none" stroke-linecap="round"/>
<path d="M957.2,1195 A6.6,2.6 0 0 1 944,1196.3" stroke="#fff" stroke-width="1.4" fill="none"/>
<path d="M957.2,1195 A6.6,2.6 0 0 1 944,1196.3" stroke="#000" stroke-width="1.4" fill="none" stroke-dasharray="0.6 0.7"/>
<path d="M957.2,1189.9 A6.6,2.6 0 0 1 944,1191.2" stroke="#000" stroke-width="3.6" fill="none" stroke-linecap="round"/>
<path d="M957.2,1189.9 A6.6,2.6 0 0 1 944,1191.2" stroke="#fff" stroke-width="1.4" fill="none"/>
<path d="M957.2,1189.9 A6.6,2.6 0 0 1 944,1191.2" stroke="#000" stroke-width="1.4" fill="none" stroke-dasharray="0.6 0.7"/>
<path d="M957.2,1184.7 A6.6,2.6 0 0 1 944,1186" stroke="#000" stroke-width="3.6" fill="none" stroke-linecap="round"/>
<path d="M957.2,1184.7 A6.6,2.6 0 0 1 944,1186" stroke="#fff" stroke-width="1.4" fill="none"/>
<path d="M957.2,1184.7 A6.6,2.6 0 0 1 944,1186" stroke="#000" stroke-width="1.4" fill="none" stroke-dasharray="0.6 0.7"/>
<path d="M957.2,1179.5 A6.6,2.6 0 0 1 944,1180.8" stroke="#000" stroke-width="3.6" fill="none" stroke-linecap="round"/>
<path d="M957.2,1179.5 A6.6,2.6 0 0 1 944,1180.8" stroke="#fff" stroke-width="1.4" fill="none"/>
<path d="M957.2,1179.5 A6.6,2.6 0 0 1 944,1180.8" stroke="#000" stroke-width="1.4" fill="none" stroke-dasharray="0.6 0.7"/>
<path d="M957.2,1174.4 A6.6,2.6 0 0 1 944,1175.7" stroke="#000" stroke-width="3.6" fill="none" stroke-linecap="round"/>
<path d="M957.2,1174.4 A6.6,2.6 0 0 1 944,1175.7" stroke="#fff" stroke-width="1.4" fill="none"/>
<path d="M957.2,1174.4 A6.6,2.6 0 0 1 944,1175.7" stroke="#000" stroke-width="1.4" fill="none" stroke-dasharray="0.6 0.7"/>
<line x1="932.3" y1="1158" x2="932.3" y2="1233" stroke="#000" stroke-width="1" />
<path d="M914,1239.4 L928.1,1235 L936.3,1237.9 L939.7,1238.4 Q943.5,1240.5 942.6,1243.2 L941.2,1245.5 L940.7,1264.6 L931,1268.2 L926.6,1266 L917.4,1262.1 L917.4,1243.2 L914.5,1241.3 Z" fill="#fff" stroke="#000" stroke-width="1.1"/>
<line x1="914.5" y1="1241.3" x2="926.8" y2="1245.8" stroke="#000" stroke-width="1.1" />
<line x1="926.8" y1="1245.8" x2="941" y2="1245" stroke="#000" stroke-width="1.1" />
<line x1="926.8" y1="1245.8" x2="926.8" y2="1266" stroke="#000" stroke-width="1.1" />
<path d="M917.6,1241.5 L926.5,1244 L926.5,1250 L923.5,1250.5 L923.5,1258 L920,1256 L918,1249 Z" fill="#111"/>
<path d="M920.4,1249.5 L923.2,1257.5" stroke="#fff" stroke-width="1.2"/>
<rect x="913.6" y="1250.2" width="4.2" height="6.2" fill="#fff" stroke="#000" stroke-width="1"/>
<rect x="930.3" y="1246.5" width="1.8" height="5" fill="#111"/>
<rect x="936.6" y="1246.5" width="1.8" height="4.5" fill="#111"/>
<path d="M928.3,1234 L928.3,1241 Q932.3,1243.5 936.3,1241 L936.3,1234" fill="#fff" stroke="#000" stroke-width="1"/>
<ellipse cx="932.3" cy="1234" rx="4" ry="1.6" fill="#fff" stroke="#000" stroke-width="1"/>
<text x="123" y="396.8" textLength="54.4" lengthAdjust="spacingAndGlyphs" class="t">419089</text>
<line x1="120" y1="402" x2="182.6" y2="402" stroke="#000" stroke-width="1" />
<line x1="182.6" y1="402" x2="290.1" y2="508.9" stroke="#000" stroke-width="0.8" />
<circle cx="290.1" cy="508.9" r="3.2" fill="#000"/>
<text x="123.6" y="588.4" textLength="53.6" lengthAdjust="spacingAndGlyphs" class="t">700108</text>
<line x1="119.5" y1="594.1" x2="182.6" y2="594.1" stroke="#000" stroke-width="1" />
<line x1="182.6" y1="594.1" x2="288.5" y2="717" stroke="#000" stroke-width="0.8" />
<circle cx="288.5" cy="717" r="3.2" fill="#000"/>
<text x="124.9" y="669.2" textLength="54.1" lengthAdjust="spacingAndGlyphs" class="t">700128</text>
<line x1="119.5" y1="674.5" x2="182.6" y2="674.5" stroke="#000" stroke-width="1" />
<line x1="182.6" y1="674.5" x2="286.4" y2="755.5" stroke="#000" stroke-width="0.8" />
<circle cx="286.4" cy="755.5" r="3.2" fill="#000"/>
<text x="123.6" y="745.5" textLength="53.6" lengthAdjust="spacingAndGlyphs" class="t">700138</text>
<line x1="119.5" y1="748.6" x2="182.6" y2="748.6" stroke="#000" stroke-width="1" />
<line x1="182.6" y1="748.6" x2="285.5" y2="796.2" stroke="#000" stroke-width="0.8" />
<circle cx="285.5" cy="796.2" r="3.2" fill="#000"/>
<text x="124.3" y="842.5" textLength="53.9" lengthAdjust="spacingAndGlyphs" class="t">419090</text>
<line x1="119.4" y1="846.3" x2="182.4" y2="846.3" stroke="#000" stroke-width="1" />
<line x1="182.4" y1="846.3" x2="338.8" y2="925.4" stroke="#000" stroke-width="0.8" />
<circle cx="338.8" cy="925.4" r="3.2" fill="#000"/>
<text x="124.7" y="963.2" textLength="54.6" lengthAdjust="spacingAndGlyphs" class="t">700138</text>
<line x1="119.4" y1="966.8" x2="182.4" y2="966.8" stroke="#000" stroke-width="1" />
<line x1="182.4" y1="966.8" x2="355.5" y2="1056.6" stroke="#000" stroke-width="0.8" />
<circle cx="355.5" cy="1056.6" r="3.2" fill="#000"/>
<text x="122.6" y="1049.2" textLength="54.1" lengthAdjust="spacingAndGlyphs" class="t">700128</text>
<line x1="119.4" y1="1052.8" x2="182.4" y2="1052.8" stroke="#000" stroke-width="1" />
<line x1="182.4" y1="1052.8" x2="356.8" y2="1139.7" stroke="#000" stroke-width="0.8" />
<circle cx="356.8" cy="1139.7" r="3.2" fill="#000"/>
<text x="126.4" y="1142.5" textLength="52.9" lengthAdjust="spacingAndGlyphs" class="t">700051</text>
<line x1="119.4" y1="1146.1" x2="182.4" y2="1146.1" stroke="#000" stroke-width="1" />
<line x1="182.4" y1="1146.1" x2="357.6" y2="1229.2" stroke="#000" stroke-width="0.8" />
<circle cx="357.6" cy="1229.2" r="3.2" fill="#000"/>
<text x="123.6" y="1263.2" textLength="54.6" lengthAdjust="spacingAndGlyphs" class="t">700963</text>
<line x1="121.5" y1="1266.3" x2="183.5" y2="1266.3" stroke="#000" stroke-width="1" />
<line x1="183.5" y1="1266.3" x2="291.5" y2="1346.1" stroke="#000" stroke-width="0.8" />
<circle cx="291.5" cy="1346.1" r="3.2" fill="#000"/>
<text x="391" y="1582" textLength="54.4" lengthAdjust="spacingAndGlyphs" class="t">700963</text>
<line x1="384.4" y1="1585.6" x2="447.1" y2="1585.6" stroke="#000" stroke-width="1" />
<line x1="384.4" y1="1585.6" x2="347.1" y2="1450" stroke="#000" stroke-width="0.8" />
<circle cx="347.1" cy="1450" r="3.2" fill="#000"/>
<text x="494.6" y="1582" textLength="54.2" lengthAdjust="spacingAndGlyphs" class="t">419091</text>
<line x1="487.8" y1="1585.6" x2="550.5" y2="1585.6" stroke="#000" stroke-width="1" />
<line x1="487.8" y1="1585.6" x2="443.7" y2="1392.4" stroke="#000" stroke-width="0.8" />
<circle cx="443.7" cy="1392.4" r="3.2" fill="#000"/>
<text x="598" y="1582" textLength="54" lengthAdjust="spacingAndGlyphs" class="t">419092</text>
<line x1="589.5" y1="1585.6" x2="657" y2="1585.6" stroke="#000" stroke-width="1" />
<line x1="589.5" y1="1585.6" x2="472.5" y2="1295.8" stroke="#000" stroke-width="0.8" />
<circle cx="472.5" cy="1295.8" r="3.2" fill="#000"/>
<text x="1011.1" y="359.1" textLength="53" lengthAdjust="spacingAndGlyphs" class="t">419181</text>
<line x1="1006.3" y1="364.4" x2="1068.9" y2="364.4" stroke="#000" stroke-width="1" />
<line x1="1006.3" y1="364.4" x2="946.5" y2="467.5" stroke="#000" stroke-width="0.8" />
<circle cx="946.5" cy="467.5" r="3.2" fill="#000"/>
<text x="1101.9" y="450.9" textLength="54.4" lengthAdjust="spacingAndGlyphs" class="t">419093</text>
<line x1="1097.5" y1="456.4" x2="1160.7" y2="456.4" stroke="#000" stroke-width="1" />
<line x1="1097.5" y1="456.4" x2="999.6" y2="562.4" stroke="#000" stroke-width="0.8" />
<circle cx="999.6" cy="562.4" r="3.2" fill="#000"/>
<text x="1136.9" y="744.1" textLength="54.4" lengthAdjust="spacingAndGlyphs" class="t">700138</text>
<line x1="1130.8" y1="750.5" x2="1194.5" y2="750.5" stroke="#000" stroke-width="1" />
<line x1="1130.8" y1="750.5" x2="1071" y2="722.3" stroke="#000" stroke-width="0.8" />
<circle cx="1071" cy="722.3" r="3.2" fill="#000"/>
<text x="1137.2" y="793.3" textLength="54.1" lengthAdjust="spacingAndGlyphs" class="t">700128</text>
<line x1="1130.8" y1="798.2" x2="1194.5" y2="798.2" stroke="#000" stroke-width="1" />
<line x1="1130.8" y1="798.2" x2="1069.4" y2="759.7" stroke="#000" stroke-width="0.8" />
<circle cx="1069.4" cy="759.7" r="3.2" fill="#000"/>
<text x="1137.2" y="840.9" textLength="54.1" lengthAdjust="spacingAndGlyphs" class="t">700108</text>
<line x1="1130.8" y1="845.8" x2="1194.5" y2="845.8" stroke="#000" stroke-width="1" />
<line x1="1130.8" y1="845.8" x2="1070.2" y2="803.5" stroke="#000" stroke-width="0.8" />
<circle cx="1070.2" cy="803.5" r="3.2" fill="#000"/>
<text x="693" y="841.1" textLength="54.2" lengthAdjust="spacingAndGlyphs" class="t">419216</text>
<line x1="690" y1="845.4" x2="752.6" y2="845.4" stroke="#000" stroke-width="1" />
<line x1="752.6" y1="845.4" x2="774.3" y2="730.7" stroke="#000" stroke-width="0.8" />
<text x="692.6" y="909.1" textLength="54.6" lengthAdjust="spacingAndGlyphs" class="t">419230</text>
<line x1="690.5" y1="912.5" x2="751.3" y2="912.5" stroke="#000" stroke-width="1" />
<line x1="751.3" y1="912.5" x2="799.5" y2="736.5" stroke="#000" stroke-width="0.8" />
<circle cx="799.5" cy="736.5" r="3.2" fill="#000"/>
<text x="692.6" y="984.7" textLength="56.6" lengthAdjust="spacingAndGlyphs" class="t">704537</text>
<line x1="690.5" y1="987.6" x2="753.4" y2="987.6" stroke="#000" stroke-width="1" />
<line x1="753.4" y1="987.6" x2="826.6" y2="751" stroke="#000" stroke-width="0.8" />
<circle cx="826.6" cy="751" r="3.2" fill="#000"/>
<text x="1061" y="930" textLength="56.3" lengthAdjust="spacingAndGlyphs" class="t">419094</text>
<line x1="1053.5" y1="932.6" x2="1118.6" y2="932.6" stroke="#000" stroke-width="1" />
<line x1="1053.5" y1="932.6" x2="963.3" y2="879.7" stroke="#000" stroke-width="0.8" />
<circle cx="963.3" cy="879.7" r="3.2" fill="#000"/>
<text x="1061" y="991" textLength="55.5" lengthAdjust="spacingAndGlyphs" class="t">700139</text>
<line x1="1053.5" y1="995.2" x2="1118.6" y2="995.2" stroke="#000" stroke-width="1" />
<line x1="1053.5" y1="995.2" x2="959.1" y2="956.5" stroke="#000" stroke-width="0.8" />
<circle cx="959.1" cy="956.5" r="3.2" fill="#000"/>
<text x="1060" y="1047.6" textLength="54" lengthAdjust="spacingAndGlyphs" class="t">419260</text>
<line x1="1054.7" y1="1051" x2="1117.6" y2="1051" stroke="#000" stroke-width="1" />
<line x1="1054.7" y1="1051" x2="954.9" y2="983.4" stroke="#000" stroke-width="0.8" />
<circle cx="954.9" cy="983.4" r="3.2" fill="#000"/>
<text x="1058.7" y="1094.3" textLength="53.9" lengthAdjust="spacingAndGlyphs" class="t">419273</text>
<line x1="1054.7" y1="1099.3" x2="1117.6" y2="1099.3" stroke="#000" stroke-width="1" />
<line x1="1054.7" y1="1099.3" x2="953.8" y2="1023.2" stroke="#000" stroke-width="0.8" />
<circle cx="953.8" cy="1023.2" r="3.2" fill="#000"/>
<text x="1058" y="1150.6" textLength="54.6" lengthAdjust="spacingAndGlyphs" class="t">419095</text>
<line x1="1054.7" y1="1154.9" x2="1117.6" y2="1154.9" stroke="#000" stroke-width="1" />
<line x1="1054.7" y1="1154.9" x2="955.5" y2="1081" stroke="#000" stroke-width="0.8" />
<circle cx="955.5" cy="1081" r="3.2" fill="#000"/>
<text x="1058.7" y="1207.8" textLength="55.6" lengthAdjust="spacingAndGlyphs" class="t">419096</text>
<line x1="1054.7" y1="1213.4" x2="1117.6" y2="1213.4" stroke="#000" stroke-width="1" />
<line x1="1054.7" y1="1213.4" x2="973" y2="1119.8" stroke="#000" stroke-width="0.8" />
<circle cx="973" cy="1119.8" r="3.2" fill="#000"/>
<text x="1060.7" y="1285.2" textLength="54.3" lengthAdjust="spacingAndGlyphs" class="t">419097</text>
<line x1="1054.7" y1="1291.2" x2="1117.6" y2="1291.2" stroke="#000" stroke-width="1" />
<line x1="1054.7" y1="1291.2" x2="936.6" y2="1257.4" stroke="#000" stroke-width="0.8" />
<circle cx="936.6" cy="1257.4" r="3.2" fill="#000"/>
<text x="803.2" y="1097.6" textLength="54.6" lengthAdjust="spacingAndGlyphs" class="t">419098</text>
<line x1="799.9" y1="1098.6" x2="861.1" y2="1098.6" stroke="#000" stroke-width="1" />
<line x1="861.1" y1="1098.6" x2="924" y2="1148.9" stroke="#000" stroke-width="0.8" />
<circle cx="924" cy="1148.9" r="3.2" fill="#000"/>
<text x="803.2" y="1149" textLength="54.6" lengthAdjust="spacingAndGlyphs" class="t">419099</text>
<line x1="799.9" y1="1154.9" x2="861.1" y2="1154.9" stroke="#000" stroke-width="1" />
<line x1="861.1" y1="1154.9" x2="943.9" y2="1185.3" stroke="#000" stroke-width="0.8" />
<circle cx="943.9" cy="1185.3" r="3.2" fill="#000"/>
<text x="865.8" y="1416.8" textLength="158.7" lengthAdjust="spacingAndGlyphs" class="s">*AufkleberSET</text>
<text x="1051.8" y="1416.8" textLength="54.2" lengthAdjust="spacingAndGlyphs" class="t">419317</text>
</svg></body></html>
